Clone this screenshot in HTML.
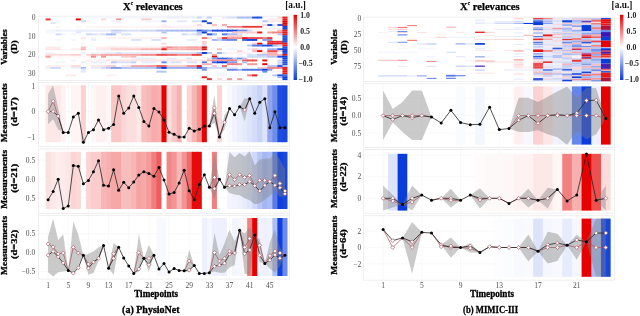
<!DOCTYPE html>
<html><head><meta charset="utf-8"><style>html,body{margin:0;padding:0;background:#fff;width:640px;height:316px;overflow:hidden}svg{display:block;will-change:transform}text{font-family:"Liberation Serif",serif}</style></head>
<body><svg width="640" height="316" viewBox="0 0 640 316" font-family="Liberation Serif, serif"><rect width="640" height="316" fill="#fff"/>
<rect x="38.4" y="16.2" width="251.20000000000002" height="64.2" fill="none" stroke="#ebebeb" stroke-width="0.8"/>
<text x="35.60" y="20.13" font-size="7.5" text-anchor="end" font-weight="normal" fill="#505050" >0</text>
<text x="35.60" y="38.78" font-size="7.5" text-anchor="end" font-weight="normal" fill="#505050" >10</text>
<text x="35.60" y="57.43" font-size="7.5" text-anchor="end" font-weight="normal" fill="#505050" >20</text>
<text x="35.60" y="76.08" font-size="7.5" text-anchor="end" font-weight="normal" fill="#505050" >30</text>
<rect x="85.90" y="16.60" width="5.94" height="1.915" fill="#f5f7fe"/>
<rect x="90.94" y="16.60" width="5.94" height="1.915" fill="#f5f7fe"/>
<rect x="95.98" y="16.60" width="5.94" height="1.915" fill="#f5f7fe"/>
<rect x="101.02" y="16.60" width="5.94" height="1.915" fill="#f5f7fe"/>
<rect x="106.06" y="16.60" width="5.94" height="1.915" fill="#f3f5fd"/>
<rect x="111.10" y="16.60" width="5.94" height="1.915" fill="#f3f5fd"/>
<rect x="116.14" y="16.60" width="5.94" height="1.915" fill="#f3f5fd"/>
<rect x="121.18" y="16.60" width="5.94" height="1.915" fill="#f3f5fd"/>
<rect x="126.22" y="16.60" width="5.94" height="1.915" fill="#f3f5fd"/>
<rect x="131.26" y="16.60" width="5.94" height="1.915" fill="#f3f5fd"/>
<rect x="136.30" y="16.60" width="5.94" height="1.915" fill="#f3f5fd"/>
<rect x="141.34" y="16.60" width="5.94" height="1.915" fill="#f3f5fd"/>
<rect x="146.38" y="16.60" width="5.94" height="1.915" fill="#f3f5fd"/>
<rect x="151.42" y="16.60" width="5.94" height="1.915" fill="#f3f5fd"/>
<rect x="156.46" y="16.60" width="5.94" height="1.915" fill="#f3f5fd"/>
<rect x="161.50" y="16.60" width="5.94" height="1.915" fill="#f3f5fd"/>
<rect x="166.54" y="16.60" width="5.94" height="1.915" fill="#ebeffc"/>
<rect x="171.58" y="16.60" width="5.94" height="1.915" fill="#ebeffc"/>
<rect x="176.62" y="16.60" width="5.94" height="1.915" fill="#ebeffc"/>
<rect x="181.66" y="16.60" width="5.94" height="1.915" fill="#ebeffc"/>
<rect x="186.70" y="16.60" width="5.94" height="1.915" fill="#ebeffc"/>
<rect x="191.74" y="16.60" width="5.94" height="1.915" fill="#ebeffc"/>
<rect x="196.78" y="16.60" width="5.94" height="1.915" fill="#ced8f8"/>
<rect x="201.82" y="16.60" width="5.94" height="1.915" fill="#f3f5fd"/>
<rect x="206.86" y="16.60" width="5.04" height="1.915" fill="#c2cef6"/>
<rect x="221.98" y="16.60" width="5.94" height="1.915" fill="#e6ecfc"/>
<rect x="227.02" y="16.60" width="5.94" height="1.915" fill="#dae2fa"/>
<rect x="232.06" y="16.60" width="5.94" height="1.915" fill="#dae2fa"/>
<rect x="237.10" y="16.60" width="5.94" height="1.915" fill="#a9bbf3"/>
<rect x="242.14" y="16.60" width="5.94" height="1.915" fill="#a9bbf3"/>
<rect x="247.18" y="16.60" width="5.94" height="1.915" fill="#a9bbf3"/>
<rect x="252.22" y="16.60" width="5.94" height="1.915" fill="#2250e0"/>
<rect x="257.26" y="16.60" width="5.04" height="1.915" fill="#2250e0"/>
<rect x="277.42" y="16.60" width="5.94" height="1.915" fill="#fbd9d9"/>
<rect x="282.46" y="16.60" width="5.04" height="1.915" fill="#e81919"/>
<rect x="45.58" y="18.46" width="5.04" height="1.915" fill="#eb3333"/>
<rect x="75.82" y="18.46" width="5.04" height="1.915" fill="#e60000"/>
<rect x="101.02" y="18.46" width="5.04" height="1.915" fill="#fbd9d9"/>
<rect x="116.14" y="18.46" width="5.04" height="1.915" fill="#f48c8c"/>
<rect x="141.34" y="18.46" width="5.94" height="1.915" fill="#facccc"/>
<rect x="146.38" y="18.46" width="5.04" height="1.915" fill="#facccc"/>
<rect x="267.34" y="18.46" width="5.94" height="1.915" fill="#fdebeb"/>
<rect x="272.38" y="18.46" width="5.94" height="1.915" fill="#fdebeb"/>
<rect x="277.42" y="18.46" width="5.94" height="1.915" fill="#fdebeb"/>
<rect x="282.46" y="18.46" width="5.04" height="1.915" fill="#e81919"/>
<rect x="55.66" y="20.33" width="5.04" height="1.915" fill="#f3f5fd"/>
<rect x="80.86" y="20.33" width="5.04" height="1.915" fill="#ced8f8"/>
<rect x="111.10" y="20.33" width="5.94" height="1.915" fill="#f0f3fd"/>
<rect x="116.14" y="20.33" width="5.04" height="1.915" fill="#f0f3fd"/>
<rect x="146.38" y="20.33" width="5.94" height="1.915" fill="#f3f5fd"/>
<rect x="151.42" y="20.33" width="5.94" height="1.915" fill="#f3f5fd"/>
<rect x="156.46" y="20.33" width="5.94" height="1.915" fill="#f3f5fd"/>
<rect x="161.50" y="20.33" width="5.04" height="1.915" fill="#9db1f1"/>
<rect x="176.62" y="20.33" width="5.94" height="1.915" fill="#e2e8fb"/>
<rect x="181.66" y="20.33" width="5.04" height="1.915" fill="#e2e8fb"/>
<rect x="191.74" y="20.33" width="5.94" height="1.915" fill="#dae2fa"/>
<rect x="196.78" y="20.33" width="5.94" height="1.915" fill="#dae2fa"/>
<rect x="201.82" y="20.33" width="5.04" height="1.915" fill="#0a3cdc"/>
<rect x="262.30" y="20.33" width="5.94" height="1.915" fill="#b6c4f4"/>
<rect x="267.34" y="20.33" width="5.94" height="1.915" fill="#fce6e6"/>
<rect x="272.38" y="20.33" width="5.94" height="1.915" fill="#fce6e6"/>
<rect x="277.42" y="20.33" width="5.94" height="1.915" fill="#fce6e6"/>
<rect x="282.46" y="20.33" width="5.04" height="1.915" fill="#e60000"/>
<rect x="50.62" y="22.20" width="5.04" height="1.915" fill="#dae2fa"/>
<rect x="206.86" y="22.20" width="5.04" height="1.915" fill="#2250e0"/>
<rect x="282.46" y="22.20" width="5.04" height="1.915" fill="#e60000"/>
<rect x="161.50" y="24.06" width="5.04" height="1.915" fill="#fef0f0"/>
<rect x="196.78" y="24.06" width="5.04" height="1.915" fill="#fbd9d9"/>
<rect x="211.90" y="24.06" width="5.04" height="1.915" fill="#f9bfbf"/>
<rect x="221.98" y="24.06" width="5.04" height="1.915" fill="#f6a6a6"/>
<rect x="262.30" y="24.06" width="5.94" height="1.915" fill="#fbd9d9"/>
<rect x="267.34" y="24.06" width="5.94" height="1.915" fill="#2250e0"/>
<rect x="272.38" y="24.06" width="5.94" height="1.915" fill="#e6ecfc"/>
<rect x="277.42" y="24.06" width="5.94" height="1.915" fill="#2f59e1"/>
<rect x="282.46" y="24.06" width="5.04" height="1.915" fill="#e81919"/>
<rect x="55.66" y="25.93" width="5.04" height="1.915" fill="#fef5f5"/>
<rect x="75.82" y="25.93" width="5.04" height="1.915" fill="#fef5f5"/>
<rect x="85.90" y="25.93" width="5.94" height="1.915" fill="#fef5f5"/>
<rect x="90.94" y="25.93" width="5.94" height="1.915" fill="#fef5f5"/>
<rect x="95.98" y="25.93" width="5.94" height="1.915" fill="#fef5f5"/>
<rect x="101.02" y="25.93" width="5.94" height="1.915" fill="#fef5f5"/>
<rect x="106.06" y="25.93" width="5.94" height="1.915" fill="#fef5f5"/>
<rect x="111.10" y="25.93" width="5.94" height="1.915" fill="#fef5f5"/>
<rect x="116.14" y="25.93" width="5.94" height="1.915" fill="#fef5f5"/>
<rect x="121.18" y="25.93" width="5.94" height="1.915" fill="#fef5f5"/>
<rect x="126.22" y="25.93" width="5.94" height="1.915" fill="#fef5f5"/>
<rect x="131.26" y="25.93" width="5.94" height="1.915" fill="#fef5f5"/>
<rect x="136.30" y="25.93" width="5.94" height="1.915" fill="#fef5f5"/>
<rect x="141.34" y="25.93" width="5.94" height="1.915" fill="#fef5f5"/>
<rect x="146.38" y="25.93" width="5.94" height="1.915" fill="#fef5f5"/>
<rect x="151.42" y="25.93" width="5.94" height="1.915" fill="#fef5f5"/>
<rect x="156.46" y="25.93" width="5.94" height="1.915" fill="#fef5f5"/>
<rect x="161.50" y="25.93" width="5.94" height="1.915" fill="#fdebeb"/>
<rect x="166.54" y="25.93" width="5.94" height="1.915" fill="#fdebeb"/>
<rect x="171.58" y="25.93" width="5.94" height="1.915" fill="#fef2f2"/>
<rect x="176.62" y="25.93" width="5.94" height="1.915" fill="#fef2f2"/>
<rect x="181.66" y="25.93" width="5.94" height="1.915" fill="#fef2f2"/>
<rect x="186.70" y="25.93" width="5.94" height="1.915" fill="#fef2f2"/>
<rect x="191.74" y="25.93" width="5.94" height="1.915" fill="#fef2f2"/>
<rect x="196.78" y="25.93" width="5.94" height="1.915" fill="#fef2f2"/>
<rect x="201.82" y="25.93" width="5.94" height="1.915" fill="#fef2f2"/>
<rect x="206.86" y="25.93" width="5.94" height="1.915" fill="#fef2f2"/>
<rect x="211.90" y="25.93" width="5.94" height="1.915" fill="#fef2f2"/>
<rect x="216.94" y="25.93" width="5.94" height="1.915" fill="#fef2f2"/>
<rect x="221.98" y="25.93" width="5.94" height="1.915" fill="#fef2f2"/>
<rect x="227.02" y="25.93" width="5.94" height="1.915" fill="#f28080"/>
<rect x="232.06" y="25.93" width="5.94" height="1.915" fill="#f28080"/>
<rect x="237.10" y="25.93" width="5.94" height="1.915" fill="#f28080"/>
<rect x="242.14" y="25.93" width="5.94" height="1.915" fill="#eb3333"/>
<rect x="247.18" y="25.93" width="5.94" height="1.915" fill="#eb3333"/>
<rect x="252.22" y="25.93" width="5.94" height="1.915" fill="#eb3333"/>
<rect x="257.26" y="25.93" width="5.04" height="1.915" fill="#eb3333"/>
<rect x="282.46" y="25.93" width="5.04" height="1.915" fill="#0a3cdc"/>
<rect x="227.02" y="27.79" width="5.94" height="1.915" fill="#fef2f2"/>
<rect x="232.06" y="27.79" width="5.94" height="1.915" fill="#fef2f2"/>
<rect x="237.10" y="27.79" width="5.94" height="1.915" fill="#fef2f2"/>
<rect x="242.14" y="27.79" width="5.94" height="1.915" fill="#fef2f2"/>
<rect x="247.18" y="27.79" width="5.94" height="1.915" fill="#fef2f2"/>
<rect x="252.22" y="27.79" width="5.94" height="1.915" fill="#fef2f2"/>
<rect x="257.26" y="27.79" width="5.94" height="1.915" fill="#fef2f2"/>
<rect x="262.30" y="27.79" width="5.94" height="1.915" fill="#fef2f2"/>
<rect x="267.34" y="27.79" width="5.94" height="1.915" fill="#fef2f2"/>
<rect x="272.38" y="27.79" width="5.94" height="1.915" fill="#fef2f2"/>
<rect x="277.42" y="27.79" width="5.94" height="1.915" fill="#fef2f2"/>
<rect x="282.46" y="27.79" width="5.04" height="1.915" fill="#0a3cdc"/>
<rect x="45.58" y="29.66" width="5.94" height="1.915" fill="#f3f5fd"/>
<rect x="50.62" y="29.66" width="5.94" height="1.915" fill="#f3f5fd"/>
<rect x="55.66" y="29.66" width="5.94" height="1.915" fill="#e6ecfc"/>
<rect x="60.70" y="29.66" width="5.94" height="1.915" fill="#f0f3fd"/>
<rect x="65.74" y="29.66" width="5.94" height="1.915" fill="#f0f3fd"/>
<rect x="70.78" y="29.66" width="5.94" height="1.915" fill="#f0f3fd"/>
<rect x="75.82" y="29.66" width="5.94" height="1.915" fill="#e6ecfc"/>
<rect x="80.86" y="29.66" width="5.94" height="1.915" fill="#e6ecfc"/>
<rect x="85.90" y="29.66" width="5.94" height="1.915" fill="#e6ecfc"/>
<rect x="90.94" y="29.66" width="5.94" height="1.915" fill="#e6ecfc"/>
<rect x="95.98" y="29.66" width="5.94" height="1.915" fill="#e6ecfc"/>
<rect x="101.02" y="29.66" width="5.94" height="1.915" fill="#e6ecfc"/>
<rect x="106.06" y="29.66" width="5.94" height="1.915" fill="#e6ecfc"/>
<rect x="111.10" y="29.66" width="5.94" height="1.915" fill="#c2cef6"/>
<rect x="116.14" y="29.66" width="5.94" height="1.915" fill="#c2cef6"/>
<rect x="121.18" y="29.66" width="5.94" height="1.915" fill="#ced8f8"/>
<rect x="126.22" y="29.66" width="5.94" height="1.915" fill="#dae2fa"/>
<rect x="131.26" y="29.66" width="5.94" height="1.915" fill="#dae2fa"/>
<rect x="136.30" y="29.66" width="5.94" height="1.915" fill="#dae2fa"/>
<rect x="141.34" y="29.66" width="5.94" height="1.915" fill="#ced8f8"/>
<rect x="146.38" y="29.66" width="5.94" height="1.915" fill="#ced8f8"/>
<rect x="151.42" y="29.66" width="5.94" height="1.915" fill="#ced8f8"/>
<rect x="156.46" y="29.66" width="5.94" height="1.915" fill="#b6c4f4"/>
<rect x="161.50" y="29.66" width="5.94" height="1.915" fill="#b6c4f4"/>
<rect x="166.54" y="29.66" width="5.94" height="1.915" fill="#a9bbf3"/>
<rect x="171.58" y="29.66" width="5.94" height="1.915" fill="#a9bbf3"/>
<rect x="176.62" y="29.66" width="5.94" height="1.915" fill="#a9bbf3"/>
<rect x="181.66" y="29.66" width="5.94" height="1.915" fill="#a9bbf3"/>
<rect x="186.70" y="29.66" width="5.94" height="1.915" fill="#a9bbf3"/>
<rect x="191.74" y="29.66" width="5.94" height="1.915" fill="#a9bbf3"/>
<rect x="196.78" y="29.66" width="5.94" height="1.915" fill="#2250e0"/>
<rect x="201.82" y="29.66" width="5.94" height="1.915" fill="#6c8aea"/>
<rect x="206.86" y="29.66" width="5.94" height="1.915" fill="#849eee"/>
<rect x="211.90" y="29.66" width="5.94" height="1.915" fill="#2250e0"/>
<rect x="216.94" y="29.66" width="5.94" height="1.915" fill="#2250e0"/>
<rect x="221.98" y="29.66" width="5.94" height="1.915" fill="#2250e0"/>
<rect x="227.02" y="29.66" width="5.94" height="1.915" fill="#1646de"/>
<rect x="232.06" y="29.66" width="5.94" height="1.915" fill="#1646de"/>
<rect x="237.10" y="29.66" width="5.94" height="1.915" fill="#6c8aea"/>
<rect x="242.14" y="29.66" width="5.94" height="1.915" fill="#6c8aea"/>
<rect x="247.18" y="29.66" width="5.04" height="1.915" fill="#ced8f8"/>
<rect x="277.42" y="29.66" width="5.94" height="1.915" fill="#f8b2b2"/>
<rect x="282.46" y="29.66" width="5.04" height="1.915" fill="#e81919"/>
<rect x="45.58" y="31.52" width="5.94" height="1.915" fill="#f5f7fe"/>
<rect x="50.62" y="31.52" width="5.04" height="1.915" fill="#f5f7fe"/>
<rect x="75.82" y="31.52" width="5.04" height="1.915" fill="#e2e8fb"/>
<rect x="111.10" y="31.52" width="5.94" height="1.915" fill="#dae2fa"/>
<rect x="116.14" y="31.52" width="5.04" height="1.915" fill="#dae2fa"/>
<rect x="161.50" y="31.52" width="5.04" height="1.915" fill="#b6c4f4"/>
<rect x="196.78" y="31.52" width="5.94" height="1.915" fill="#b6c4f4"/>
<rect x="201.82" y="31.52" width="5.04" height="1.915" fill="#0a3cdc"/>
<rect x="232.06" y="31.52" width="5.94" height="1.915" fill="#facccc"/>
<rect x="237.10" y="31.52" width="5.94" height="1.915" fill="#facccc"/>
<rect x="242.14" y="31.52" width="5.94" height="1.915" fill="#facccc"/>
<rect x="247.18" y="31.52" width="5.94" height="1.915" fill="#facccc"/>
<rect x="252.22" y="31.52" width="5.94" height="1.915" fill="#facccc"/>
<rect x="257.26" y="31.52" width="5.04" height="1.915" fill="#e81919"/>
<rect x="267.34" y="31.52" width="5.94" height="1.915" fill="#f59999"/>
<rect x="272.38" y="31.52" width="5.94" height="1.915" fill="#f28080"/>
<rect x="277.42" y="31.52" width="5.94" height="1.915" fill="#f28080"/>
<rect x="282.46" y="31.52" width="5.04" height="1.915" fill="#e81919"/>
<rect x="55.66" y="33.39" width="5.94" height="1.915" fill="#ced8f8"/>
<rect x="60.70" y="33.39" width="5.04" height="1.915" fill="#f3f5fd"/>
<rect x="70.78" y="33.39" width="5.04" height="1.915" fill="#f3f5fd"/>
<rect x="85.90" y="33.39" width="5.94" height="1.915" fill="#ced8f8"/>
<rect x="90.94" y="33.39" width="5.94" height="1.915" fill="#dae2fa"/>
<rect x="95.98" y="33.39" width="5.94" height="1.915" fill="#e6ecfc"/>
<rect x="101.02" y="33.39" width="5.94" height="1.915" fill="#dae2fa"/>
<rect x="106.06" y="33.39" width="5.94" height="1.915" fill="#a9bbf3"/>
<rect x="111.10" y="33.39" width="5.04" height="1.915" fill="#a9bbf3"/>
<rect x="121.18" y="33.39" width="5.94" height="1.915" fill="#dae2fa"/>
<rect x="126.22" y="33.39" width="5.04" height="1.915" fill="#dae2fa"/>
<rect x="181.66" y="33.39" width="5.94" height="1.915" fill="#ced8f8"/>
<rect x="186.70" y="33.39" width="5.94" height="1.915" fill="#e6ecfc"/>
<rect x="191.74" y="33.39" width="5.94" height="1.915" fill="#dae2fa"/>
<rect x="196.78" y="33.39" width="5.04" height="1.915" fill="#b6c4f4"/>
<rect x="206.86" y="33.39" width="5.94" height="1.915" fill="#2250e0"/>
<rect x="211.90" y="33.39" width="5.04" height="1.915" fill="#9db1f1"/>
<rect x="221.98" y="33.39" width="5.94" height="1.915" fill="#5477e6"/>
<rect x="227.02" y="33.39" width="5.94" height="1.915" fill="#a9bbf3"/>
<rect x="232.06" y="33.39" width="5.94" height="1.915" fill="#a9bbf3"/>
<rect x="237.10" y="33.39" width="5.04" height="1.915" fill="#dae2fa"/>
<rect x="277.42" y="33.39" width="5.94" height="1.915" fill="#b6c4f4"/>
<rect x="282.46" y="33.39" width="5.04" height="1.915" fill="#e81919"/>
<rect x="227.02" y="35.25" width="5.94" height="1.915" fill="#facccc"/>
<rect x="232.06" y="35.25" width="5.94" height="1.915" fill="#facccc"/>
<rect x="237.10" y="35.25" width="5.04" height="1.915" fill="#facccc"/>
<rect x="282.46" y="35.25" width="5.04" height="1.915" fill="#2250e0"/>
<rect x="80.86" y="37.12" width="5.04" height="1.915" fill="#fce6e6"/>
<rect x="90.94" y="37.12" width="5.04" height="1.915" fill="#f3f5fd"/>
<rect x="106.06" y="37.12" width="5.94" height="1.915" fill="#fef2f2"/>
<rect x="111.10" y="37.12" width="5.94" height="1.915" fill="#fef2f2"/>
<rect x="116.14" y="37.12" width="5.94" height="1.915" fill="#fef2f2"/>
<rect x="121.18" y="37.12" width="5.94" height="1.915" fill="#fef2f2"/>
<rect x="126.22" y="37.12" width="5.94" height="1.915" fill="#fef2f2"/>
<rect x="131.26" y="37.12" width="5.94" height="1.915" fill="#fef2f2"/>
<rect x="136.30" y="37.12" width="5.94" height="1.915" fill="#fef2f2"/>
<rect x="141.34" y="37.12" width="5.94" height="1.915" fill="#fef2f2"/>
<rect x="146.38" y="37.12" width="5.94" height="1.915" fill="#fef2f2"/>
<rect x="151.42" y="37.12" width="5.94" height="1.915" fill="#fef2f2"/>
<rect x="156.46" y="37.12" width="5.94" height="1.915" fill="#fef2f2"/>
<rect x="161.50" y="37.12" width="5.04" height="1.915" fill="#f8b2b2"/>
<rect x="201.82" y="37.12" width="5.94" height="1.915" fill="#f17373"/>
<rect x="206.86" y="37.12" width="5.04" height="1.915" fill="#fbd9d9"/>
<rect x="216.94" y="37.12" width="5.94" height="1.915" fill="#facccc"/>
<rect x="221.98" y="37.12" width="5.94" height="1.915" fill="#eb3333"/>
<rect x="227.02" y="37.12" width="5.94" height="1.915" fill="#f59999"/>
<rect x="232.06" y="37.12" width="5.94" height="1.915" fill="#f59999"/>
<rect x="237.10" y="37.12" width="5.94" height="1.915" fill="#f59999"/>
<rect x="242.14" y="37.12" width="5.94" height="1.915" fill="#e81919"/>
<rect x="247.18" y="37.12" width="5.94" height="1.915" fill="#ee4d4d"/>
<rect x="252.22" y="37.12" width="5.94" height="1.915" fill="#ee4d4d"/>
<rect x="257.26" y="37.12" width="5.94" height="1.915" fill="#ee4d4d"/>
<rect x="262.30" y="37.12" width="5.94" height="1.915" fill="#f28080"/>
<rect x="267.34" y="37.12" width="5.04" height="1.915" fill="#eb3333"/>
<rect x="282.46" y="37.12" width="5.04" height="1.915" fill="#2250e0"/>
<rect x="55.66" y="38.98" width="5.04" height="1.915" fill="#f5f7fe"/>
<rect x="70.78" y="38.98" width="5.04" height="1.915" fill="#f5f7fe"/>
<rect x="90.94" y="38.98" width="5.04" height="1.915" fill="#e6ecfc"/>
<rect x="131.26" y="38.98" width="5.94" height="1.915" fill="#dae2fa"/>
<rect x="136.30" y="38.98" width="5.04" height="1.915" fill="#dae2fa"/>
<rect x="151.42" y="38.98" width="5.94" height="1.915" fill="#dae2fa"/>
<rect x="156.46" y="38.98" width="5.04" height="1.915" fill="#dae2fa"/>
<rect x="186.70" y="38.98" width="5.94" height="1.915" fill="#e6ecfc"/>
<rect x="191.74" y="38.98" width="5.04" height="1.915" fill="#e6ecfc"/>
<rect x="211.90" y="38.98" width="5.94" height="1.915" fill="#9db1f1"/>
<rect x="216.94" y="38.98" width="5.94" height="1.915" fill="#c2cef6"/>
<rect x="221.98" y="38.98" width="5.94" height="1.915" fill="#849eee"/>
<rect x="227.02" y="38.98" width="5.94" height="1.915" fill="#6c8aea"/>
<rect x="232.06" y="38.98" width="5.04" height="1.915" fill="#6c8aea"/>
<rect x="242.14" y="38.98" width="5.94" height="1.915" fill="#3b63e3"/>
<rect x="247.18" y="38.98" width="5.94" height="1.915" fill="#1646de"/>
<rect x="252.22" y="38.98" width="5.04" height="1.915" fill="#1646de"/>
<rect x="262.30" y="38.98" width="5.94" height="1.915" fill="#849eee"/>
<rect x="267.34" y="38.98" width="5.04" height="1.915" fill="#849eee"/>
<rect x="282.46" y="38.98" width="5.04" height="1.915" fill="#2250e0"/>
<rect x="201.82" y="40.84" width="5.04" height="1.915" fill="#facccc"/>
<rect x="267.34" y="40.84" width="5.94" height="1.915" fill="#eb3333"/>
<rect x="272.38" y="40.84" width="5.94" height="1.915" fill="#eb3333"/>
<rect x="277.42" y="40.84" width="5.94" height="1.915" fill="#eb3333"/>
<rect x="282.46" y="40.84" width="5.04" height="1.915" fill="#2250e0"/>
<rect x="80.86" y="42.71" width="5.04" height="1.915" fill="#fef5f5"/>
<rect x="161.50" y="42.71" width="5.04" height="1.915" fill="#fbd9d9"/>
<rect x="201.82" y="42.71" width="5.04" height="1.915" fill="#facccc"/>
<rect x="252.22" y="42.71" width="5.94" height="1.915" fill="#facccc"/>
<rect x="257.26" y="42.71" width="5.04" height="1.915" fill="#e60000"/>
<rect x="267.34" y="42.71" width="5.94" height="1.915" fill="#ea2626"/>
<rect x="272.38" y="42.71" width="5.94" height="1.915" fill="#ea2626"/>
<rect x="277.42" y="42.71" width="5.94" height="1.915" fill="#ea2626"/>
<rect x="282.46" y="42.71" width="5.04" height="1.915" fill="#e81919"/>
<rect x="201.82" y="44.58" width="5.04" height="1.915" fill="#dae2fa"/>
<rect x="247.18" y="44.58" width="5.94" height="1.915" fill="#b6c4f4"/>
<rect x="252.22" y="44.58" width="5.94" height="1.915" fill="#5477e6"/>
<rect x="257.26" y="44.58" width="5.94" height="1.915" fill="#5477e6"/>
<rect x="262.30" y="44.58" width="5.94" height="1.915" fill="#2250e0"/>
<rect x="267.34" y="44.58" width="5.94" height="1.915" fill="#2250e0"/>
<rect x="272.38" y="44.58" width="5.94" height="1.915" fill="#a9bbf3"/>
<rect x="277.42" y="44.58" width="5.94" height="1.915" fill="#ced8f8"/>
<rect x="282.46" y="44.58" width="5.04" height="1.915" fill="#e81919"/>
<rect x="45.58" y="46.44" width="5.94" height="1.915" fill="#fdebeb"/>
<rect x="50.62" y="46.44" width="5.94" height="1.915" fill="#fdebeb"/>
<rect x="55.66" y="46.44" width="5.04" height="1.915" fill="#fdebeb"/>
<rect x="80.86" y="46.44" width="5.04" height="1.915" fill="#f9bfbf"/>
<rect x="95.98" y="46.44" width="5.94" height="1.915" fill="#fef0f0"/>
<rect x="101.02" y="46.44" width="5.94" height="1.915" fill="#fef0f0"/>
<rect x="106.06" y="46.44" width="5.94" height="1.915" fill="#fdebeb"/>
<rect x="111.10" y="46.44" width="5.94" height="1.915" fill="#fce6e6"/>
<rect x="116.14" y="46.44" width="5.94" height="1.915" fill="#fdebeb"/>
<rect x="121.18" y="46.44" width="5.94" height="1.915" fill="#fdebeb"/>
<rect x="126.22" y="46.44" width="5.94" height="1.915" fill="#fdebeb"/>
<rect x="131.26" y="46.44" width="5.94" height="1.915" fill="#fdebeb"/>
<rect x="136.30" y="46.44" width="5.94" height="1.915" fill="#fdebeb"/>
<rect x="141.34" y="46.44" width="5.94" height="1.915" fill="#fdebeb"/>
<rect x="146.38" y="46.44" width="5.94" height="1.915" fill="#fdebeb"/>
<rect x="151.42" y="46.44" width="5.94" height="1.915" fill="#fdebeb"/>
<rect x="156.46" y="46.44" width="5.94" height="1.915" fill="#fdebeb"/>
<rect x="161.50" y="46.44" width="5.94" height="1.915" fill="#f8b2b2"/>
<rect x="166.54" y="46.44" width="5.94" height="1.915" fill="#f48c8c"/>
<rect x="171.58" y="46.44" width="5.94" height="1.915" fill="#f6a6a6"/>
<rect x="176.62" y="46.44" width="5.94" height="1.915" fill="#f8b2b2"/>
<rect x="181.66" y="46.44" width="5.94" height="1.915" fill="#f8b2b2"/>
<rect x="186.70" y="46.44" width="5.94" height="1.915" fill="#f6a6a6"/>
<rect x="191.74" y="46.44" width="5.94" height="1.915" fill="#f6a6a6"/>
<rect x="196.78" y="46.44" width="5.94" height="1.915" fill="#f6a6a6"/>
<rect x="201.82" y="46.44" width="5.04" height="1.915" fill="#e70d0d"/>
<rect x="282.46" y="46.44" width="5.04" height="1.915" fill="#2250e0"/>
<rect x="45.58" y="48.30" width="5.94" height="1.915" fill="#fce6e6"/>
<rect x="50.62" y="48.30" width="5.94" height="1.915" fill="#fce6e6"/>
<rect x="55.66" y="48.30" width="5.04" height="1.915" fill="#fce6e6"/>
<rect x="70.78" y="48.30" width="5.94" height="1.915" fill="#fdebeb"/>
<rect x="75.82" y="48.30" width="5.94" height="1.915" fill="#fdebeb"/>
<rect x="80.86" y="48.30" width="5.04" height="1.915" fill="#f8b2b2"/>
<rect x="95.98" y="48.30" width="5.94" height="1.915" fill="#fce6e6"/>
<rect x="101.02" y="48.30" width="5.94" height="1.915" fill="#fce6e6"/>
<rect x="106.06" y="48.30" width="5.94" height="1.915" fill="#fce6e6"/>
<rect x="111.10" y="48.30" width="5.94" height="1.915" fill="#facccc"/>
<rect x="116.14" y="48.30" width="5.94" height="1.915" fill="#facccc"/>
<rect x="121.18" y="48.30" width="5.94" height="1.915" fill="#facccc"/>
<rect x="126.22" y="48.30" width="5.94" height="1.915" fill="#facccc"/>
<rect x="131.26" y="48.30" width="5.94" height="1.915" fill="#facccc"/>
<rect x="136.30" y="48.30" width="5.94" height="1.915" fill="#facccc"/>
<rect x="141.34" y="48.30" width="5.94" height="1.915" fill="#f8b2b2"/>
<rect x="146.38" y="48.30" width="5.94" height="1.915" fill="#f8b2b2"/>
<rect x="151.42" y="48.30" width="5.94" height="1.915" fill="#f8b2b2"/>
<rect x="156.46" y="48.30" width="5.94" height="1.915" fill="#f8b2b2"/>
<rect x="161.50" y="48.30" width="5.94" height="1.915" fill="#e81919"/>
<rect x="166.54" y="48.30" width="5.94" height="1.915" fill="#f8b2b2"/>
<rect x="171.58" y="48.30" width="5.94" height="1.915" fill="#f8b2b2"/>
<rect x="176.62" y="48.30" width="5.94" height="1.915" fill="#f8b2b2"/>
<rect x="181.66" y="48.30" width="5.94" height="1.915" fill="#f8b2b2"/>
<rect x="186.70" y="48.30" width="5.94" height="1.915" fill="#f6a6a6"/>
<rect x="191.74" y="48.30" width="5.94" height="1.915" fill="#f6a6a6"/>
<rect x="196.78" y="48.30" width="5.94" height="1.915" fill="#f6a6a6"/>
<rect x="201.82" y="48.30" width="5.04" height="1.915" fill="#e81919"/>
<rect x="216.94" y="48.30" width="5.04" height="1.915" fill="#f9bfbf"/>
<rect x="227.02" y="48.30" width="5.94" height="1.915" fill="#f3f5fd"/>
<rect x="232.06" y="48.30" width="5.04" height="1.915" fill="#f3f5fd"/>
<rect x="247.18" y="48.30" width="5.94" height="1.915" fill="#e6ecfc"/>
<rect x="252.22" y="48.30" width="5.94" height="1.915" fill="#facccc"/>
<rect x="257.26" y="48.30" width="5.04" height="1.915" fill="#e6ecfc"/>
<rect x="267.34" y="48.30" width="5.94" height="1.915" fill="#9db1f1"/>
<rect x="272.38" y="48.30" width="5.94" height="1.915" fill="#9db1f1"/>
<rect x="277.42" y="48.30" width="5.94" height="1.915" fill="#2250e0"/>
<rect x="282.46" y="48.30" width="5.04" height="1.915" fill="#0a3cdc"/>
<rect x="237.10" y="50.17" width="5.04" height="1.915" fill="#facccc"/>
<rect x="252.22" y="50.17" width="5.94" height="1.915" fill="#f8b2b2"/>
<rect x="257.26" y="50.17" width="5.04" height="1.915" fill="#e60000"/>
<rect x="267.34" y="50.17" width="5.94" height="1.915" fill="#ee4d4d"/>
<rect x="272.38" y="50.17" width="5.94" height="1.915" fill="#ee4d4d"/>
<rect x="277.42" y="50.17" width="5.94" height="1.915" fill="#facccc"/>
<rect x="282.46" y="50.17" width="5.04" height="1.915" fill="#0a3cdc"/>
<rect x="45.58" y="52.04" width="5.94" height="1.915" fill="#f3f5fd"/>
<rect x="50.62" y="52.04" width="5.04" height="1.915" fill="#f3f5fd"/>
<rect x="80.86" y="52.04" width="5.04" height="1.915" fill="#ebeffc"/>
<rect x="90.94" y="52.04" width="5.94" height="1.915" fill="#f3f5fd"/>
<rect x="95.98" y="52.04" width="5.94" height="1.915" fill="#f3f5fd"/>
<rect x="101.02" y="52.04" width="5.94" height="1.915" fill="#f3f5fd"/>
<rect x="106.06" y="52.04" width="5.94" height="1.915" fill="#ebeffc"/>
<rect x="111.10" y="52.04" width="5.94" height="1.915" fill="#ebeffc"/>
<rect x="116.14" y="52.04" width="5.94" height="1.915" fill="#dae2fa"/>
<rect x="121.18" y="52.04" width="5.94" height="1.915" fill="#ebeffc"/>
<rect x="126.22" y="52.04" width="5.94" height="1.915" fill="#ebeffc"/>
<rect x="131.26" y="52.04" width="5.94" height="1.915" fill="#ebeffc"/>
<rect x="136.30" y="52.04" width="5.94" height="1.915" fill="#ebeffc"/>
<rect x="141.34" y="52.04" width="5.94" height="1.915" fill="#ebeffc"/>
<rect x="146.38" y="52.04" width="5.94" height="1.915" fill="#ebeffc"/>
<rect x="151.42" y="52.04" width="5.94" height="1.915" fill="#ebeffc"/>
<rect x="156.46" y="52.04" width="5.94" height="1.915" fill="#ebeffc"/>
<rect x="161.50" y="52.04" width="5.94" height="1.915" fill="#ced8f8"/>
<rect x="166.54" y="52.04" width="5.94" height="1.915" fill="#dae2fa"/>
<rect x="171.58" y="52.04" width="5.94" height="1.915" fill="#dae2fa"/>
<rect x="176.62" y="52.04" width="5.94" height="1.915" fill="#dae2fa"/>
<rect x="181.66" y="52.04" width="5.94" height="1.915" fill="#dae2fa"/>
<rect x="186.70" y="52.04" width="5.94" height="1.915" fill="#dae2fa"/>
<rect x="191.74" y="52.04" width="5.94" height="1.915" fill="#dae2fa"/>
<rect x="196.78" y="52.04" width="5.94" height="1.915" fill="#b6c4f4"/>
<rect x="201.82" y="52.04" width="5.94" height="1.915" fill="#0a3cdc"/>
<rect x="206.86" y="52.04" width="5.04" height="1.915" fill="#b6c4f4"/>
<rect x="216.94" y="52.04" width="5.94" height="1.915" fill="#9db1f1"/>
<rect x="221.98" y="52.04" width="5.94" height="1.915" fill="#e6ecfc"/>
<rect x="227.02" y="52.04" width="5.94" height="1.915" fill="#fef2f2"/>
<rect x="232.06" y="52.04" width="5.94" height="1.915" fill="#fef2f2"/>
<rect x="237.10" y="52.04" width="5.94" height="1.915" fill="#fef2f2"/>
<rect x="242.14" y="52.04" width="5.94" height="1.915" fill="#fef2f2"/>
<rect x="247.18" y="52.04" width="5.04" height="1.915" fill="#fef2f2"/>
<rect x="262.30" y="52.04" width="5.94" height="1.915" fill="#fbd9d9"/>
<rect x="267.34" y="52.04" width="5.94" height="1.915" fill="#f8b2b2"/>
<rect x="272.38" y="52.04" width="5.04" height="1.915" fill="#f8b2b2"/>
<rect x="282.46" y="52.04" width="5.04" height="1.915" fill="#2250e0"/>
<rect x="45.58" y="53.90" width="5.94" height="1.915" fill="#fbd9d9"/>
<rect x="50.62" y="53.90" width="5.94" height="1.915" fill="#fbd9d9"/>
<rect x="55.66" y="53.90" width="5.94" height="1.915" fill="#fbd9d9"/>
<rect x="60.70" y="53.90" width="5.94" height="1.915" fill="#fbd9d9"/>
<rect x="65.74" y="53.90" width="5.94" height="1.915" fill="#fbd9d9"/>
<rect x="70.78" y="53.90" width="5.94" height="1.915" fill="#facccc"/>
<rect x="75.82" y="53.90" width="5.04" height="1.915" fill="#facccc"/>
<rect x="85.90" y="53.90" width="5.94" height="1.915" fill="#facccc"/>
<rect x="90.94" y="53.90" width="5.94" height="1.915" fill="#f8b2b2"/>
<rect x="95.98" y="53.90" width="5.94" height="1.915" fill="#f9bfbf"/>
<rect x="101.02" y="53.90" width="5.94" height="1.915" fill="#f6a6a6"/>
<rect x="106.06" y="53.90" width="5.94" height="1.915" fill="#f6a6a6"/>
<rect x="111.10" y="53.90" width="5.94" height="1.915" fill="#f6a6a6"/>
<rect x="116.14" y="53.90" width="5.94" height="1.915" fill="#f6a6a6"/>
<rect x="121.18" y="53.90" width="5.94" height="1.915" fill="#f6a6a6"/>
<rect x="126.22" y="53.90" width="5.94" height="1.915" fill="#f6a6a6"/>
<rect x="131.26" y="53.90" width="5.94" height="1.915" fill="#f6a6a6"/>
<rect x="136.30" y="53.90" width="5.94" height="1.915" fill="#f6a6a6"/>
<rect x="141.34" y="53.90" width="5.94" height="1.915" fill="#f48c8c"/>
<rect x="146.38" y="53.90" width="5.94" height="1.915" fill="#f48c8c"/>
<rect x="151.42" y="53.90" width="5.94" height="1.915" fill="#f48c8c"/>
<rect x="156.46" y="53.90" width="5.94" height="1.915" fill="#ee4d4d"/>
<rect x="161.50" y="53.90" width="5.94" height="1.915" fill="#ee4d4d"/>
<rect x="166.54" y="53.90" width="5.94" height="1.915" fill="#f06666"/>
<rect x="171.58" y="53.90" width="5.94" height="1.915" fill="#f06666"/>
<rect x="176.62" y="53.90" width="5.94" height="1.915" fill="#f48c8c"/>
<rect x="181.66" y="53.90" width="5.94" height="1.915" fill="#f48c8c"/>
<rect x="186.70" y="53.90" width="5.94" height="1.915" fill="#f48c8c"/>
<rect x="191.74" y="53.90" width="5.94" height="1.915" fill="#ec4040"/>
<rect x="196.78" y="53.90" width="5.04" height="1.915" fill="#ec4040"/>
<rect x="211.90" y="53.90" width="5.04" height="1.915" fill="#f6a6a6"/>
<rect x="237.10" y="53.90" width="5.04" height="1.915" fill="#f3f5fd"/>
<rect x="247.18" y="53.90" width="5.94" height="1.915" fill="#dae2fa"/>
<rect x="252.22" y="53.90" width="5.94" height="1.915" fill="#dae2fa"/>
<rect x="257.26" y="53.90" width="5.94" height="1.915" fill="#b6c4f4"/>
<rect x="262.30" y="53.90" width="5.94" height="1.915" fill="#b6c4f4"/>
<rect x="267.34" y="53.90" width="5.94" height="1.915" fill="#f8b2b2"/>
<rect x="272.38" y="53.90" width="5.94" height="1.915" fill="#f8b2b2"/>
<rect x="277.42" y="53.90" width="5.94" height="1.915" fill="#f8b2b2"/>
<rect x="282.46" y="53.90" width="5.04" height="1.915" fill="#e81919"/>
<rect x="45.58" y="55.77" width="5.94" height="1.915" fill="#f59999"/>
<rect x="50.62" y="55.77" width="5.94" height="1.915" fill="#fef7f7"/>
<rect x="55.66" y="55.77" width="5.94" height="1.915" fill="#fef7f7"/>
<rect x="60.70" y="55.77" width="5.94" height="1.915" fill="#fef7f7"/>
<rect x="65.74" y="55.77" width="5.94" height="1.915" fill="#fef7f7"/>
<rect x="70.78" y="55.77" width="5.94" height="1.915" fill="#fef7f7"/>
<rect x="75.82" y="55.77" width="5.94" height="1.915" fill="#fef7f7"/>
<rect x="80.86" y="55.77" width="5.94" height="1.915" fill="#fef7f7"/>
<rect x="85.90" y="55.77" width="5.94" height="1.915" fill="#fef7f7"/>
<rect x="90.94" y="55.77" width="5.04" height="1.915" fill="#f48c8c"/>
<rect x="101.02" y="55.77" width="5.04" height="1.915" fill="#f59999"/>
<rect x="121.18" y="55.77" width="5.94" height="1.915" fill="#facccc"/>
<rect x="126.22" y="55.77" width="5.94" height="1.915" fill="#facccc"/>
<rect x="131.26" y="55.77" width="5.04" height="1.915" fill="#f8b2b2"/>
<rect x="211.90" y="55.77" width="5.04" height="1.915" fill="#e70d0d"/>
<rect x="247.18" y="55.77" width="5.94" height="1.915" fill="#ced8f8"/>
<rect x="252.22" y="55.77" width="5.94" height="1.915" fill="#ced8f8"/>
<rect x="257.26" y="55.77" width="5.94" height="1.915" fill="#ced8f8"/>
<rect x="262.30" y="55.77" width="5.94" height="1.915" fill="#ced8f8"/>
<rect x="267.34" y="55.77" width="5.94" height="1.915" fill="#b6c4f4"/>
<rect x="272.38" y="55.77" width="5.94" height="1.915" fill="#b6c4f4"/>
<rect x="277.42" y="55.77" width="5.94" height="1.915" fill="#2250e0"/>
<rect x="282.46" y="55.77" width="5.04" height="1.915" fill="#0a3cdc"/>
<rect x="131.26" y="57.63" width="5.94" height="1.915" fill="#ebeffc"/>
<rect x="136.30" y="57.63" width="5.94" height="1.915" fill="#ebeffc"/>
<rect x="141.34" y="57.63" width="5.94" height="1.915" fill="#ebeffc"/>
<rect x="146.38" y="57.63" width="5.94" height="1.915" fill="#ebeffc"/>
<rect x="151.42" y="57.63" width="5.04" height="1.915" fill="#ebeffc"/>
<rect x="166.54" y="57.63" width="5.94" height="1.915" fill="#e6ecfc"/>
<rect x="171.58" y="57.63" width="5.04" height="1.915" fill="#e6ecfc"/>
<rect x="186.70" y="57.63" width="5.04" height="1.915" fill="#dae2fa"/>
<rect x="206.86" y="57.63" width="5.94" height="1.915" fill="#dae2fa"/>
<rect x="211.90" y="57.63" width="5.94" height="1.915" fill="#849eee"/>
<rect x="216.94" y="57.63" width="5.94" height="1.915" fill="#3b63e3"/>
<rect x="221.98" y="57.63" width="5.94" height="1.915" fill="#3b63e3"/>
<rect x="227.02" y="57.63" width="5.94" height="1.915" fill="#6c8aea"/>
<rect x="232.06" y="57.63" width="5.94" height="1.915" fill="#b6c4f4"/>
<rect x="237.10" y="57.63" width="5.94" height="1.915" fill="#6c8aea"/>
<rect x="242.14" y="57.63" width="5.04" height="1.915" fill="#b6c4f4"/>
<rect x="282.46" y="57.63" width="5.04" height="1.915" fill="#0a3cdc"/>
<rect x="70.78" y="59.50" width="5.04" height="1.915" fill="#f3f5fd"/>
<rect x="85.90" y="59.50" width="5.94" height="1.915" fill="#fdebeb"/>
<rect x="90.94" y="59.50" width="5.94" height="1.915" fill="#fef2f2"/>
<rect x="95.98" y="59.50" width="5.94" height="1.915" fill="#fef2f2"/>
<rect x="101.02" y="59.50" width="5.94" height="1.915" fill="#fef2f2"/>
<rect x="106.06" y="59.50" width="5.94" height="1.915" fill="#fce6e6"/>
<rect x="111.10" y="59.50" width="5.94" height="1.915" fill="#fce6e6"/>
<rect x="116.14" y="59.50" width="5.94" height="1.915" fill="#fce6e6"/>
<rect x="121.18" y="59.50" width="5.94" height="1.915" fill="#fce6e6"/>
<rect x="126.22" y="59.50" width="5.94" height="1.915" fill="#fce6e6"/>
<rect x="131.26" y="59.50" width="5.94" height="1.915" fill="#fce6e6"/>
<rect x="136.30" y="59.50" width="5.94" height="1.915" fill="#fce6e6"/>
<rect x="141.34" y="59.50" width="5.94" height="1.915" fill="#fce6e6"/>
<rect x="146.38" y="59.50" width="5.94" height="1.915" fill="#fce6e6"/>
<rect x="151.42" y="59.50" width="5.94" height="1.915" fill="#fce6e6"/>
<rect x="156.46" y="59.50" width="5.94" height="1.915" fill="#fce6e6"/>
<rect x="161.50" y="59.50" width="5.94" height="1.915" fill="#fce6e6"/>
<rect x="166.54" y="59.50" width="5.94" height="1.915" fill="#fce6e6"/>
<rect x="171.58" y="59.50" width="5.94" height="1.915" fill="#fce6e6"/>
<rect x="176.62" y="59.50" width="5.94" height="1.915" fill="#fce6e6"/>
<rect x="181.66" y="59.50" width="5.94" height="1.915" fill="#fce6e6"/>
<rect x="186.70" y="59.50" width="5.94" height="1.915" fill="#fce6e6"/>
<rect x="191.74" y="59.50" width="5.94" height="1.915" fill="#fce6e6"/>
<rect x="196.78" y="59.50" width="5.94" height="1.915" fill="#fce6e6"/>
<rect x="201.82" y="59.50" width="5.94" height="1.915" fill="#fce6e6"/>
<rect x="206.86" y="59.50" width="5.94" height="1.915" fill="#f8b2b2"/>
<rect x="211.90" y="59.50" width="5.94" height="1.915" fill="#f59999"/>
<rect x="216.94" y="59.50" width="5.94" height="1.915" fill="#f59999"/>
<rect x="221.98" y="59.50" width="5.94" height="1.915" fill="#f59999"/>
<rect x="227.02" y="59.50" width="5.94" height="1.915" fill="#f28080"/>
<rect x="232.06" y="59.50" width="5.94" height="1.915" fill="#f28080"/>
<rect x="237.10" y="59.50" width="5.94" height="1.915" fill="#fce6e6"/>
<rect x="242.14" y="59.50" width="5.94" height="1.915" fill="#f06666"/>
<rect x="247.18" y="59.50" width="5.94" height="1.915" fill="#ee4d4d"/>
<rect x="252.22" y="59.50" width="5.04" height="1.915" fill="#ee4d4d"/>
<rect x="262.30" y="59.50" width="5.04" height="1.915" fill="#e70d0d"/>
<rect x="277.42" y="59.50" width="5.94" height="1.915" fill="#ced8f8"/>
<rect x="282.46" y="59.50" width="5.04" height="1.915" fill="#2250e0"/>
<rect x="55.66" y="61.36" width="5.94" height="1.915" fill="#f3f5fd"/>
<rect x="60.70" y="61.36" width="5.04" height="1.915" fill="#f3f5fd"/>
<rect x="80.86" y="61.36" width="5.04" height="1.915" fill="#e6ecfc"/>
<rect x="90.94" y="61.36" width="5.94" height="1.915" fill="#ebeffc"/>
<rect x="95.98" y="61.36" width="5.94" height="1.915" fill="#ebeffc"/>
<rect x="101.02" y="61.36" width="5.04" height="1.915" fill="#ebeffc"/>
<rect x="111.10" y="61.36" width="5.94" height="1.915" fill="#b6c4f4"/>
<rect x="116.14" y="61.36" width="5.94" height="1.915" fill="#dae2fa"/>
<rect x="121.18" y="61.36" width="5.94" height="1.915" fill="#dae2fa"/>
<rect x="126.22" y="61.36" width="5.94" height="1.915" fill="#dae2fa"/>
<rect x="131.26" y="61.36" width="5.04" height="1.915" fill="#c2cef6"/>
<rect x="141.34" y="61.36" width="5.94" height="1.915" fill="#e6ecfc"/>
<rect x="146.38" y="61.36" width="5.94" height="1.915" fill="#e6ecfc"/>
<rect x="151.42" y="61.36" width="5.04" height="1.915" fill="#e6ecfc"/>
<rect x="161.50" y="61.36" width="5.94" height="1.915" fill="#6c8aea"/>
<rect x="166.54" y="61.36" width="5.94" height="1.915" fill="#ebeffc"/>
<rect x="171.58" y="61.36" width="5.94" height="1.915" fill="#dae2fa"/>
<rect x="176.62" y="61.36" width="5.04" height="1.915" fill="#dae2fa"/>
<rect x="186.70" y="61.36" width="5.94" height="1.915" fill="#dae2fa"/>
<rect x="191.74" y="61.36" width="5.04" height="1.915" fill="#dae2fa"/>
<rect x="201.82" y="61.36" width="5.04" height="1.915" fill="#5477e6"/>
<rect x="211.90" y="61.36" width="5.94" height="1.915" fill="#3b63e3"/>
<rect x="216.94" y="61.36" width="5.94" height="1.915" fill="#0a3cdc"/>
<rect x="221.98" y="61.36" width="5.94" height="1.915" fill="#0a3cdc"/>
<rect x="227.02" y="61.36" width="5.94" height="1.915" fill="#849eee"/>
<rect x="232.06" y="61.36" width="5.04" height="1.915" fill="#849eee"/>
<rect x="242.14" y="61.36" width="5.04" height="1.915" fill="#a9bbf3"/>
<rect x="277.42" y="61.36" width="5.94" height="1.915" fill="#ced8f8"/>
<rect x="282.46" y="61.36" width="5.04" height="1.915" fill="#2250e0"/>
<rect x="85.90" y="63.23" width="5.04" height="1.915" fill="#fef5f5"/>
<rect x="201.82" y="63.23" width="5.94" height="1.915" fill="#f8b2b2"/>
<rect x="206.86" y="63.23" width="5.04" height="1.915" fill="#f8b2b2"/>
<rect x="227.02" y="63.23" width="5.94" height="1.915" fill="#f28080"/>
<rect x="232.06" y="63.23" width="5.94" height="1.915" fill="#f28080"/>
<rect x="237.10" y="63.23" width="5.04" height="1.915" fill="#f48c8c"/>
<rect x="247.18" y="63.23" width="5.94" height="1.915" fill="#f59999"/>
<rect x="252.22" y="63.23" width="5.04" height="1.915" fill="#f59999"/>
<rect x="262.30" y="63.23" width="5.04" height="1.915" fill="#e60000"/>
<rect x="277.42" y="63.23" width="5.94" height="1.915" fill="#ced8f8"/>
<rect x="282.46" y="63.23" width="5.04" height="1.915" fill="#2250e0"/>
<rect x="45.58" y="65.09" width="5.94" height="1.915" fill="#fef0f0"/>
<rect x="50.62" y="65.09" width="5.94" height="1.915" fill="#fef0f0"/>
<rect x="55.66" y="65.09" width="5.94" height="1.915" fill="#fef0f0"/>
<rect x="60.70" y="65.09" width="5.04" height="1.915" fill="#fef0f0"/>
<rect x="70.78" y="65.09" width="5.94" height="1.915" fill="#fbd9d9"/>
<rect x="75.82" y="65.09" width="5.04" height="1.915" fill="#fbd9d9"/>
<rect x="90.94" y="65.09" width="5.94" height="1.915" fill="#fce6e6"/>
<rect x="95.98" y="65.09" width="5.94" height="1.915" fill="#fce6e6"/>
<rect x="101.02" y="65.09" width="5.94" height="1.915" fill="#fce6e6"/>
<rect x="106.06" y="65.09" width="5.94" height="1.915" fill="#facccc"/>
<rect x="111.10" y="65.09" width="5.04" height="1.915" fill="#facccc"/>
<rect x="121.18" y="65.09" width="5.94" height="1.915" fill="#fce6e6"/>
<rect x="126.22" y="65.09" width="5.94" height="1.915" fill="#fce6e6"/>
<rect x="131.26" y="65.09" width="5.94" height="1.915" fill="#f6a6a6"/>
<rect x="136.30" y="65.09" width="5.94" height="1.915" fill="#f6a6a6"/>
<rect x="141.34" y="65.09" width="5.94" height="1.915" fill="#f6a6a6"/>
<rect x="146.38" y="65.09" width="5.94" height="1.915" fill="#f59999"/>
<rect x="151.42" y="65.09" width="5.94" height="1.915" fill="#f59999"/>
<rect x="156.46" y="65.09" width="5.94" height="1.915" fill="#ef5959"/>
<rect x="161.50" y="65.09" width="5.94" height="1.915" fill="#ef5959"/>
<rect x="166.54" y="65.09" width="5.94" height="1.915" fill="#facccc"/>
<rect x="171.58" y="65.09" width="5.94" height="1.915" fill="#facccc"/>
<rect x="176.62" y="65.09" width="5.94" height="1.915" fill="#facccc"/>
<rect x="181.66" y="65.09" width="5.94" height="1.915" fill="#facccc"/>
<rect x="186.70" y="65.09" width="5.94" height="1.915" fill="#f48c8c"/>
<rect x="191.74" y="65.09" width="5.94" height="1.915" fill="#f48c8c"/>
<rect x="196.78" y="65.09" width="5.04" height="1.915" fill="#e81919"/>
<rect x="211.90" y="65.09" width="5.04" height="1.915" fill="#facccc"/>
<rect x="221.98" y="65.09" width="5.04" height="1.915" fill="#f06666"/>
<rect x="267.34" y="65.09" width="5.94" height="1.915" fill="#b6c4f4"/>
<rect x="272.38" y="65.09" width="5.94" height="1.915" fill="#b6c4f4"/>
<rect x="277.42" y="65.09" width="5.94" height="1.915" fill="#2250e0"/>
<rect x="282.46" y="65.09" width="5.04" height="1.915" fill="#b6c4f4"/>
<rect x="45.58" y="66.95" width="5.94" height="1.915" fill="#ebeffc"/>
<rect x="50.62" y="66.95" width="5.94" height="1.915" fill="#ced8f8"/>
<rect x="55.66" y="66.95" width="5.04" height="1.915" fill="#ced8f8"/>
<rect x="70.78" y="66.95" width="5.94" height="1.915" fill="#ebeffc"/>
<rect x="75.82" y="66.95" width="5.94" height="1.915" fill="#ebeffc"/>
<rect x="80.86" y="66.95" width="5.04" height="1.915" fill="#a9bbf3"/>
<rect x="90.94" y="66.95" width="5.94" height="1.915" fill="#e6ecfc"/>
<rect x="95.98" y="66.95" width="5.94" height="1.915" fill="#e6ecfc"/>
<rect x="101.02" y="66.95" width="5.94" height="1.915" fill="#ced8f8"/>
<rect x="106.06" y="66.95" width="5.94" height="1.915" fill="#b6c4f4"/>
<rect x="111.10" y="66.95" width="5.94" height="1.915" fill="#849eee"/>
<rect x="116.14" y="66.95" width="5.94" height="1.915" fill="#849eee"/>
<rect x="121.18" y="66.95" width="5.94" height="1.915" fill="#b6c4f4"/>
<rect x="126.22" y="66.95" width="5.94" height="1.915" fill="#b6c4f4"/>
<rect x="131.26" y="66.95" width="5.94" height="1.915" fill="#b6c4f4"/>
<rect x="136.30" y="66.95" width="5.94" height="1.915" fill="#b6c4f4"/>
<rect x="141.34" y="66.95" width="5.94" height="1.915" fill="#b6c4f4"/>
<rect x="146.38" y="66.95" width="5.94" height="1.915" fill="#b6c4f4"/>
<rect x="151.42" y="66.95" width="5.94" height="1.915" fill="#b6c4f4"/>
<rect x="156.46" y="66.95" width="5.94" height="1.915" fill="#6c8aea"/>
<rect x="161.50" y="66.95" width="5.94" height="1.915" fill="#0a3cdc"/>
<rect x="166.54" y="66.95" width="5.94" height="1.915" fill="#9db1f1"/>
<rect x="171.58" y="66.95" width="5.94" height="1.915" fill="#9db1f1"/>
<rect x="176.62" y="66.95" width="5.94" height="1.915" fill="#9db1f1"/>
<rect x="181.66" y="66.95" width="5.94" height="1.915" fill="#9db1f1"/>
<rect x="186.70" y="66.95" width="5.94" height="1.915" fill="#9db1f1"/>
<rect x="191.74" y="66.95" width="5.94" height="1.915" fill="#9db1f1"/>
<rect x="196.78" y="66.95" width="5.94" height="1.915" fill="#3b63e3"/>
<rect x="201.82" y="66.95" width="5.94" height="1.915" fill="#849eee"/>
<rect x="206.86" y="66.95" width="5.94" height="1.915" fill="#ced8f8"/>
<rect x="211.90" y="66.95" width="5.94" height="1.915" fill="#ced8f8"/>
<rect x="216.94" y="66.95" width="5.94" height="1.915" fill="#ced8f8"/>
<rect x="221.98" y="66.95" width="5.94" height="1.915" fill="#ced8f8"/>
<rect x="227.02" y="66.95" width="5.94" height="1.915" fill="#e6ecfc"/>
<rect x="232.06" y="66.95" width="5.04" height="1.915" fill="#e6ecfc"/>
<rect x="257.26" y="66.95" width="5.94" height="1.915" fill="#facccc"/>
<rect x="262.30" y="66.95" width="5.94" height="1.915" fill="#facccc"/>
<rect x="267.34" y="66.95" width="5.94" height="1.915" fill="#f28080"/>
<rect x="272.38" y="66.95" width="5.94" height="1.915" fill="#f28080"/>
<rect x="277.42" y="66.95" width="5.94" height="1.915" fill="#f28080"/>
<rect x="282.46" y="66.95" width="5.04" height="1.915" fill="#e81919"/>
<rect x="80.86" y="68.82" width="5.04" height="1.915" fill="#e2e8fb"/>
<rect x="201.82" y="68.82" width="5.04" height="1.915" fill="#7894ec"/>
<rect x="227.02" y="68.82" width="5.94" height="1.915" fill="#6c8aea"/>
<rect x="232.06" y="68.82" width="5.94" height="1.915" fill="#6c8aea"/>
<rect x="237.10" y="68.82" width="5.94" height="1.915" fill="#9db1f1"/>
<rect x="242.14" y="68.82" width="5.94" height="1.915" fill="#5477e6"/>
<rect x="247.18" y="68.82" width="5.94" height="1.915" fill="#5477e6"/>
<rect x="252.22" y="68.82" width="5.94" height="1.915" fill="#5477e6"/>
<rect x="257.26" y="68.82" width="5.94" height="1.915" fill="#5477e6"/>
<rect x="262.30" y="68.82" width="5.94" height="1.915" fill="#0a3cdc"/>
<rect x="267.34" y="68.82" width="5.04" height="1.915" fill="#849eee"/>
<rect x="282.46" y="68.82" width="5.04" height="1.915" fill="#e81919"/>
<rect x="80.86" y="70.69" width="5.04" height="1.915" fill="#e2e8fb"/>
<rect x="156.46" y="70.69" width="5.94" height="1.915" fill="#b6c4f4"/>
<rect x="161.50" y="70.69" width="5.04" height="1.915" fill="#b6c4f4"/>
<rect x="262.30" y="70.69" width="5.04" height="1.915" fill="#6c8aea"/>
<rect x="272.38" y="70.69" width="5.94" height="1.915" fill="#fef2f2"/>
<rect x="277.42" y="70.69" width="5.94" height="1.915" fill="#fef2f2"/>
<rect x="282.46" y="70.69" width="5.04" height="1.915" fill="#e81919"/>
<rect x="216.94" y="72.55" width="5.94" height="1.915" fill="#f3f5fd"/>
<rect x="221.98" y="72.55" width="5.04" height="1.915" fill="#f3f5fd"/>
<rect x="282.46" y="72.55" width="5.04" height="1.915" fill="#e81919"/>
<rect x="65.74" y="74.41" width="5.94" height="1.915" fill="#fdebeb"/>
<rect x="70.78" y="74.41" width="5.04" height="1.915" fill="#fdebeb"/>
<rect x="106.06" y="74.41" width="5.94" height="1.915" fill="#fef2f2"/>
<rect x="111.10" y="74.41" width="5.04" height="1.915" fill="#fef2f2"/>
<rect x="216.94" y="74.41" width="5.94" height="1.915" fill="#f3f5fd"/>
<rect x="221.98" y="74.41" width="5.04" height="1.915" fill="#f3f5fd"/>
<rect x="247.18" y="74.41" width="5.94" height="1.915" fill="#f28080"/>
<rect x="252.22" y="74.41" width="5.04" height="1.915" fill="#e81919"/>
<rect x="272.38" y="74.41" width="5.94" height="1.915" fill="#b6c4f4"/>
<rect x="277.42" y="74.41" width="5.94" height="1.915" fill="#2250e0"/>
<rect x="282.46" y="74.41" width="5.04" height="1.915" fill="#3b63e3"/>
<rect x="201.82" y="76.28" width="5.04" height="1.915" fill="#e81919"/>
<rect x="277.42" y="76.28" width="5.94" height="1.915" fill="#9db1f1"/>
<rect x="282.46" y="76.28" width="5.04" height="1.915" fill="#0a3cdc"/>
<rect x="206.86" y="78.15" width="5.04" height="1.915" fill="#eb3333"/>
<rect x="216.94" y="78.15" width="5.04" height="1.915" fill="#fbd9d9"/>
<rect x="227.02" y="78.15" width="5.04" height="1.915" fill="#f59999"/>
<rect x="237.10" y="78.15" width="5.04" height="1.915" fill="#f59999"/>
<rect x="282.46" y="78.15" width="5.04" height="1.915" fill="#0a3cdc"/>
<rect x="363.4" y="17.1" width="251.20000000000005" height="64.30000000000001" fill="none" stroke="#ebebeb" stroke-width="0.8"/>
<text x="361.20" y="20.82" font-size="7.5" text-anchor="end" font-weight="normal" fill="#505050" >0</text>
<text x="361.20" y="36.90" font-size="7.5" text-anchor="end" font-weight="normal" fill="#505050" >25</text>
<text x="361.20" y="52.97" font-size="7.5" text-anchor="end" font-weight="normal" fill="#505050" >50</text>
<text x="361.20" y="69.05" font-size="7.5" text-anchor="end" font-weight="normal" fill="#505050" >75</text>
<rect x="533.19" y="17.9" width="10.28" height="63.40" fill="#f0f3fd"/>
<rect x="542.87" y="17.9" width="10.28" height="63.40" fill="#e6ecfc"/>
<rect x="552.55" y="17.9" width="10.28" height="63.40" fill="#e6ecfc"/>
<rect x="562.24" y="17.9" width="10.28" height="63.40" fill="#d3dcf9"/>
<rect x="571.92" y="17.9" width="10.28" height="63.40" fill="#d3dcf9"/>
<rect x="581.60" y="17.9" width="10.28" height="63.40" fill="#ced8f8"/>
<rect x="591.28" y="17.9" width="10.28" height="63.40" fill="#c9d4f7"/>
<rect x="407.31" y="25.07" width="9.78" height="1.08" fill="#f28080"/>
<rect x="387.94" y="26.90" width="9.78" height="0.86" fill="#facccc"/>
<rect x="397.62" y="26.90" width="9.78" height="1.08" fill="#f17373"/>
<rect x="387.94" y="28.84" width="9.78" height="0.86" fill="#fbd9d9"/>
<rect x="397.62" y="28.84" width="9.78" height="0.86" fill="#f8b2b2"/>
<rect x="387.94" y="30.99" width="9.78" height="0.86" fill="#e6ecfc"/>
<rect x="397.62" y="30.99" width="9.78" height="1.08" fill="#6c8aea"/>
<rect x="378.26" y="32.07" width="9.78" height="0.65" fill="#fce6e6"/>
<rect x="397.62" y="32.07" width="9.78" height="0.65" fill="#f9bfbf"/>
<rect x="416.99" y="32.07" width="9.78" height="0.65" fill="#facccc"/>
<rect x="397.62" y="34.22" width="9.78" height="1.29" fill="#7894ec"/>
<rect x="378.26" y="36.91" width="9.78" height="0.54" fill="#fef2f2"/>
<rect x="387.94" y="36.91" width="9.78" height="0.54" fill="#fef2f2"/>
<rect x="397.62" y="36.91" width="9.78" height="0.54" fill="#fef2f2"/>
<rect x="407.31" y="36.91" width="9.78" height="0.54" fill="#fef2f2"/>
<rect x="416.99" y="36.91" width="9.78" height="0.54" fill="#fef2f2"/>
<rect x="426.67" y="36.91" width="9.78" height="0.54" fill="#fef2f2"/>
<rect x="407.31" y="39.82" width="9.78" height="1.08" fill="#f17373"/>
<rect x="387.94" y="41.76" width="9.78" height="1.08" fill="#dae2fa"/>
<rect x="397.62" y="41.76" width="9.78" height="1.08" fill="#7894ec"/>
<rect x="416.99" y="43.37" width="9.78" height="1.08" fill="#dae2fa"/>
<rect x="426.67" y="43.37" width="9.78" height="1.29" fill="#c2cef6"/>
<rect x="397.62" y="48.22" width="9.78" height="1.08" fill="#f3f5fd"/>
<rect x="416.99" y="48.22" width="9.78" height="1.08" fill="#f3f5fd"/>
<rect x="426.67" y="48.22" width="9.78" height="1.08" fill="#f3f5fd"/>
<rect x="475.09" y="19.69" width="9.78" height="1.08" fill="#e2e8fb"/>
<rect x="475.09" y="22.60" width="9.78" height="1.08" fill="#dae2fa"/>
<rect x="484.77" y="22.60" width="9.78" height="1.08" fill="#ebeffc"/>
<rect x="446.04" y="26.69" width="9.78" height="1.08" fill="#f8b2b2"/>
<rect x="455.72" y="31.85" width="9.78" height="0.86" fill="#fce0e0"/>
<rect x="475.09" y="31.64" width="9.78" height="1.29" fill="#e81919"/>
<rect x="484.77" y="31.85" width="9.78" height="0.86" fill="#facccc"/>
<rect x="436.36" y="33.90" width="9.78" height="0.65" fill="#fdebeb"/>
<rect x="484.77" y="35.08" width="9.78" height="0.86" fill="#fce6e6"/>
<rect x="436.36" y="36.81" width="9.78" height="0.86" fill="#f9bfbf"/>
<rect x="446.04" y="36.81" width="9.78" height="0.86" fill="#ebeffc"/>
<rect x="455.72" y="36.81" width="9.78" height="0.86" fill="#ebeffc"/>
<rect x="465.41" y="36.81" width="9.78" height="0.86" fill="#ebeffc"/>
<rect x="475.09" y="39.17" width="9.78" height="0.86" fill="#fbd9d9"/>
<rect x="484.77" y="39.17" width="9.78" height="0.86" fill="#fbd9d9"/>
<rect x="455.72" y="43.26" width="9.78" height="1.29" fill="#9db1f1"/>
<rect x="465.41" y="43.26" width="9.78" height="1.29" fill="#dae2fa"/>
<rect x="475.09" y="43.05" width="9.78" height="1.72" fill="#0a3cdc"/>
<rect x="475.09" y="48.22" width="9.78" height="1.08" fill="#e2e8fb"/>
<rect x="513.82" y="17.90" width="9.78" height="1.47" fill="#fbd9d9"/>
<rect x="533.19" y="17.90" width="9.78" height="1.47" fill="#ec4040"/>
<rect x="542.87" y="17.90" width="9.78" height="1.47" fill="#f48c8c"/>
<rect x="533.19" y="19.69" width="9.78" height="1.61" fill="#6c8aea"/>
<rect x="542.87" y="19.69" width="9.78" height="1.08" fill="#b6c4f4"/>
<rect x="494.45" y="21.31" width="9.78" height="1.08" fill="#dae2fa"/>
<rect x="504.14" y="21.31" width="9.78" height="1.08" fill="#dae2fa"/>
<rect x="513.82" y="21.31" width="9.78" height="1.08" fill="#c2cef6"/>
<rect x="533.19" y="21.31" width="9.78" height="1.61" fill="#0a3cdc"/>
<rect x="542.87" y="21.31" width="9.78" height="1.08" fill="#91a7ef"/>
<rect x="494.45" y="22.92" width="9.78" height="1.08" fill="#ced8f8"/>
<rect x="504.14" y="22.92" width="9.78" height="1.08" fill="#ced8f8"/>
<rect x="513.82" y="22.92" width="9.78" height="1.08" fill="#a9bbf3"/>
<rect x="523.50" y="22.92" width="9.78" height="1.08" fill="#0a3cdc"/>
<rect x="533.19" y="22.92" width="9.78" height="2.15" fill="#0a3cdc"/>
<rect x="542.87" y="22.92" width="9.78" height="1.08" fill="#849eee"/>
<rect x="533.19" y="25.61" width="9.78" height="1.08" fill="#fce6e6"/>
<rect x="513.82" y="27.23" width="9.78" height="1.08" fill="#e6ecfc"/>
<rect x="533.19" y="27.23" width="9.78" height="1.08" fill="#9db1f1"/>
<rect x="542.87" y="27.23" width="9.78" height="1.08" fill="#fbd9d9"/>
<rect x="494.45" y="28.84" width="9.78" height="1.08" fill="#e6ecfc"/>
<rect x="504.14" y="28.84" width="9.78" height="1.08" fill="#e6ecfc"/>
<rect x="513.82" y="28.84" width="9.78" height="1.08" fill="#e6ecfc"/>
<rect x="533.19" y="28.63" width="9.78" height="1.51" fill="#6c8aea"/>
<rect x="542.87" y="28.84" width="9.78" height="1.08" fill="#ced8f8"/>
<rect x="533.19" y="30.46" width="9.78" height="1.08" fill="#fbd9d9"/>
<rect x="542.87" y="30.46" width="9.78" height="1.08" fill="#fdebeb"/>
<rect x="513.82" y="32.39" width="9.78" height="1.08" fill="#e6ecfc"/>
<rect x="533.19" y="32.39" width="9.78" height="1.29" fill="#9db1f1"/>
<rect x="523.50" y="34.76" width="9.78" height="1.08" fill="#f8b2b2"/>
<rect x="542.87" y="34.44" width="9.78" height="1.72" fill="#e81919"/>
<rect x="494.45" y="36.16" width="9.78" height="0.86" fill="#e6ecfc"/>
<rect x="504.14" y="36.16" width="9.78" height="0.86" fill="#e6ecfc"/>
<rect x="513.82" y="36.16" width="9.78" height="0.86" fill="#dae2fa"/>
<rect x="533.19" y="35.95" width="9.78" height="1.29" fill="#6080e8"/>
<rect x="542.87" y="36.16" width="9.78" height="1.08" fill="#f59999"/>
<rect x="494.45" y="38.85" width="9.78" height="1.08" fill="#fbd9d9"/>
<rect x="504.14" y="38.85" width="9.78" height="1.08" fill="#fbd9d9"/>
<rect x="513.82" y="38.85" width="9.78" height="1.08" fill="#facccc"/>
<rect x="533.19" y="38.53" width="9.78" height="1.72" fill="#ea2626"/>
<rect x="542.87" y="38.53" width="9.78" height="1.51" fill="#f6a6a6"/>
<rect x="533.19" y="40.25" width="9.78" height="0.86" fill="#facccc"/>
<rect x="542.87" y="40.25" width="9.78" height="0.86" fill="#e6ecfc"/>
<rect x="533.19" y="41.76" width="9.78" height="1.51" fill="#5477e6"/>
<rect x="542.87" y="41.76" width="9.78" height="1.51" fill="#fce6e6"/>
<rect x="513.82" y="43.91" width="9.78" height="1.08" fill="#e6ecfc"/>
<rect x="533.19" y="43.70" width="9.78" height="1.51" fill="#91a7ef"/>
<rect x="542.87" y="43.91" width="9.78" height="1.08" fill="#dae2fa"/>
<rect x="533.19" y="46.28" width="9.78" height="1.29" fill="#b6c4f4"/>
<rect x="542.87" y="46.28" width="9.78" height="1.29" fill="#fdebeb"/>
<rect x="523.50" y="48.75" width="9.78" height="1.08" fill="#e6ecfc"/>
<rect x="533.19" y="48.75" width="9.78" height="1.08" fill="#ced8f8"/>
<rect x="504.14" y="49.83" width="9.78" height="1.18" fill="#fce6e6"/>
<rect x="513.82" y="49.83" width="9.78" height="1.18" fill="#fbd9d9"/>
<rect x="533.19" y="49.51" width="9.78" height="1.51" fill="#eb3333"/>
<rect x="552.55" y="17.90" width="9.78" height="0.18" fill="#b6c4f4"/>
<rect x="552.55" y="18.61" width="9.78" height="1.08" fill="#fce6e6"/>
<rect x="552.55" y="20.23" width="9.78" height="1.61" fill="#dae2fa"/>
<rect x="552.55" y="24.00" width="9.78" height="1.08" fill="#fbd9d9"/>
<rect x="552.55" y="27.76" width="9.78" height="1.61" fill="#f59999"/>
<rect x="552.55" y="29.92" width="9.78" height="1.08" fill="#dae2fa"/>
<rect x="552.55" y="32.07" width="9.78" height="1.08" fill="#ced8f8"/>
<rect x="552.55" y="33.68" width="9.78" height="1.08" fill="#f8b2b2"/>
<rect x="552.55" y="35.30" width="9.78" height="1.08" fill="#fce6e6"/>
<rect x="552.55" y="36.91" width="9.78" height="1.08" fill="#f9bfbf"/>
<rect x="552.55" y="38.53" width="9.78" height="1.08" fill="#e6ecfc"/>
<rect x="552.55" y="40.14" width="9.78" height="1.61" fill="#fbd9d9"/>
<rect x="552.55" y="42.83" width="9.78" height="1.08" fill="#e6ecfc"/>
<rect x="552.55" y="44.99" width="9.78" height="1.08" fill="#fbd9d9"/>
<rect x="552.55" y="47.68" width="9.78" height="1.61" fill="#2f59e1"/>
<rect x="552.55" y="49.83" width="9.78" height="1.18" fill="#facccc"/>
<rect x="562.24" y="17.90" width="9.78" height="0.39" fill="#fce6e6"/>
<rect x="562.24" y="19.15" width="9.78" height="1.08" fill="#e6ecfc"/>
<rect x="562.24" y="20.23" width="9.78" height="2.15" fill="#1646de"/>
<rect x="562.24" y="22.92" width="9.78" height="1.08" fill="#facccc"/>
<rect x="562.24" y="24.32" width="9.78" height="1.51" fill="#91a7ef"/>
<rect x="562.24" y="26.15" width="9.78" height="1.08" fill="#fce6e6"/>
<rect x="562.24" y="27.76" width="9.78" height="2.15" fill="#a9bbf3"/>
<rect x="562.24" y="29.92" width="9.78" height="1.61" fill="#c2cef6"/>
<rect x="562.24" y="32.07" width="9.78" height="1.08" fill="#fbd9d9"/>
<rect x="562.24" y="33.15" width="9.78" height="1.08" fill="#b6c4f4"/>
<rect x="562.24" y="34.76" width="9.78" height="1.08" fill="#ced8f8"/>
<rect x="562.24" y="36.38" width="9.78" height="1.08" fill="#f8b2b2"/>
<rect x="562.24" y="37.45" width="9.78" height="1.08" fill="#b6c4f4"/>
<rect x="562.24" y="39.07" width="9.78" height="1.08" fill="#e81919"/>
<rect x="562.24" y="41.76" width="9.78" height="1.61" fill="#6c8aea"/>
<rect x="562.24" y="43.91" width="9.78" height="1.08" fill="#facccc"/>
<rect x="562.24" y="45.53" width="9.78" height="1.08" fill="#b6c4f4"/>
<rect x="562.24" y="47.14" width="9.78" height="1.08" fill="#ced8f8"/>
<rect x="562.24" y="49.29" width="9.78" height="1.72" fill="#a9bbf3"/>
<rect x="571.92" y="17.90" width="9.78" height="0.18" fill="#6c8aea"/>
<rect x="571.92" y="18.61" width="9.78" height="1.08" fill="#facccc"/>
<rect x="571.92" y="20.23" width="9.78" height="1.61" fill="#9db1f1"/>
<rect x="571.92" y="22.38" width="9.78" height="1.08" fill="#b6c4f4"/>
<rect x="571.92" y="24.00" width="9.78" height="1.08" fill="#facccc"/>
<rect x="571.92" y="25.61" width="9.78" height="1.08" fill="#6c8aea"/>
<rect x="571.92" y="27.23" width="9.78" height="2.15" fill="#fce6e6"/>
<rect x="571.92" y="29.92" width="9.78" height="1.61" fill="#9db1f1"/>
<rect x="571.92" y="32.07" width="9.78" height="1.61" fill="#ced8f8"/>
<rect x="571.92" y="34.22" width="9.78" height="1.08" fill="#f9bfbf"/>
<rect x="571.92" y="35.84" width="9.78" height="1.61" fill="#ced8f8"/>
<rect x="571.92" y="37.99" width="9.78" height="2.15" fill="#f28080"/>
<rect x="571.92" y="40.68" width="9.78" height="1.61" fill="#91a7ef"/>
<rect x="571.92" y="42.83" width="9.78" height="1.08" fill="#f8b2b2"/>
<rect x="571.92" y="44.45" width="9.78" height="0.75" fill="#849eee"/>
<rect x="571.92" y="45.53" width="9.78" height="1.08" fill="#3b63e3"/>
<rect x="571.92" y="47.68" width="9.78" height="1.08" fill="#f06666"/>
<rect x="571.92" y="49.29" width="9.78" height="1.08" fill="#c2cef6"/>
<rect x="581.60" y="17.90" width="9.78" height="0.18" fill="#9db1f1"/>
<rect x="581.60" y="18.61" width="9.78" height="1.08" fill="#f9bfbf"/>
<rect x="581.60" y="20.77" width="9.78" height="1.61" fill="#6a3aa8"/>
<rect x="581.60" y="22.92" width="9.78" height="1.08" fill="#facccc"/>
<rect x="581.60" y="25.07" width="9.78" height="5.92" fill="#0a3cdc"/>
<rect x="581.60" y="31.53" width="9.78" height="1.08" fill="#b6c4f4"/>
<rect x="581.60" y="33.15" width="9.78" height="1.29" fill="#849eee"/>
<rect x="581.60" y="34.76" width="9.78" height="1.61" fill="#f28080"/>
<rect x="581.60" y="36.38" width="9.78" height="1.61" fill="#ea2626"/>
<rect x="581.60" y="38.53" width="9.78" height="1.29" fill="#a9bbf3"/>
<rect x="581.60" y="40.14" width="9.78" height="1.40" fill="#f59999"/>
<rect x="581.60" y="41.76" width="9.78" height="1.61" fill="#2f59e1"/>
<rect x="581.60" y="43.91" width="9.78" height="1.61" fill="#fbd9d9"/>
<rect x="581.60" y="46.06" width="9.78" height="1.08" fill="#6c8aea"/>
<rect x="581.60" y="47.68" width="9.78" height="1.61" fill="#f8b2b2"/>
<rect x="581.60" y="49.29" width="9.78" height="1.72" fill="#91a7ef"/>
<rect x="591.28" y="17.90" width="9.78" height="0.18" fill="#f8b2b2"/>
<rect x="591.28" y="18.61" width="9.78" height="1.08" fill="#b6c4f4"/>
<rect x="591.28" y="19.69" width="9.78" height="2.15" fill="#f06666"/>
<rect x="591.28" y="21.84" width="9.78" height="1.08" fill="#fce6e6"/>
<rect x="591.28" y="22.92" width="9.78" height="1.61" fill="#f28080"/>
<rect x="591.28" y="25.07" width="9.78" height="2.15" fill="#c2cef6"/>
<rect x="591.28" y="27.23" width="9.78" height="2.15" fill="#f28080"/>
<rect x="591.28" y="29.92" width="9.78" height="2.15" fill="#a9bbf3"/>
<rect x="591.28" y="32.61" width="9.78" height="1.61" fill="#849eee"/>
<rect x="591.28" y="34.22" width="9.78" height="1.61" fill="#f6a6a6"/>
<rect x="591.28" y="36.38" width="9.78" height="1.61" fill="#f06666"/>
<rect x="591.28" y="38.53" width="9.78" height="1.61" fill="#ced8f8"/>
<rect x="591.28" y="40.68" width="9.78" height="1.61" fill="#ec4040"/>
<rect x="591.28" y="42.83" width="9.78" height="1.61" fill="#ced8f8"/>
<rect x="591.28" y="44.99" width="9.78" height="1.61" fill="#f28080"/>
<rect x="591.28" y="47.14" width="9.78" height="1.08" fill="#b6c4f4"/>
<rect x="591.28" y="48.75" width="9.78" height="2.26" fill="#849eee"/>
<rect x="600.97" y="17.90" width="9.78" height="1.25" fill="#2250e0"/>
<rect x="600.97" y="19.15" width="9.78" height="2.69" fill="#e70d0d"/>
<rect x="600.97" y="21.84" width="9.78" height="1.61" fill="#e70d0d"/>
<rect x="600.97" y="23.46" width="9.78" height="2.15" fill="#e81919"/>
<rect x="600.97" y="25.61" width="9.78" height="4.31" fill="#b0143c"/>
<rect x="600.97" y="29.92" width="9.78" height="2.15" fill="#6c8aea"/>
<rect x="600.97" y="32.07" width="9.78" height="4.84" fill="#3a18b8"/>
<rect x="600.97" y="36.91" width="9.78" height="3.77" fill="#0a3cdc"/>
<rect x="600.97" y="40.68" width="9.78" height="6.46" fill="#e60000"/>
<rect x="600.97" y="47.68" width="9.78" height="1.61" fill="#3b63e3"/>
<rect x="600.97" y="49.29" width="9.78" height="1.72" fill="#f59999"/>
<rect x="378.26" y="51.69" width="9.78" height="1.08" fill="#f3f5fd"/>
<rect x="387.94" y="51.69" width="9.78" height="1.08" fill="#f3f5fd"/>
<rect x="397.62" y="51.69" width="9.78" height="1.08" fill="#f3f5fd"/>
<rect x="407.31" y="51.69" width="9.78" height="1.08" fill="#f3f5fd"/>
<rect x="426.67" y="56.00" width="9.78" height="1.08" fill="#f3f5fd"/>
<rect x="378.26" y="59.76" width="9.78" height="1.08" fill="#f9bfbf"/>
<rect x="387.94" y="59.76" width="9.78" height="1.08" fill="#f9bfbf"/>
<rect x="397.62" y="59.76" width="9.78" height="1.08" fill="#f48c8c"/>
<rect x="426.67" y="60.95" width="9.78" height="1.08" fill="#f48c8c"/>
<rect x="397.62" y="65.68" width="9.78" height="1.08" fill="#e6ecfc"/>
<rect x="426.67" y="65.68" width="9.78" height="1.08" fill="#dae2fa"/>
<rect x="378.26" y="75.37" width="9.78" height="1.08" fill="#c2cef6"/>
<rect x="387.94" y="75.37" width="9.78" height="1.08" fill="#c2cef6"/>
<rect x="397.62" y="75.37" width="9.78" height="1.08" fill="#c2cef6"/>
<rect x="407.31" y="75.37" width="9.78" height="1.08" fill="#e2e8fb"/>
<rect x="416.99" y="75.16" width="9.78" height="1.51" fill="#a9bbf3"/>
<rect x="426.67" y="77.85" width="9.78" height="1.08" fill="#6c8aea"/>
<rect x="475.09" y="49.86" width="9.78" height="0.86" fill="#fce0e0"/>
<rect x="484.77" y="49.86" width="9.78" height="0.86" fill="#fdebeb"/>
<rect x="446.04" y="51.80" width="9.78" height="0.86" fill="#ced8f8"/>
<rect x="455.72" y="56.21" width="9.78" height="1.08" fill="#e2e8fb"/>
<rect x="475.09" y="56.00" width="9.78" height="1.61" fill="#a9bbf3"/>
<rect x="484.77" y="56.21" width="9.78" height="1.08" fill="#f3f5fd"/>
<rect x="475.09" y="60.09" width="9.78" height="1.51" fill="#f9bfbf"/>
<rect x="484.77" y="60.30" width="9.78" height="2.15" fill="#facccc"/>
<rect x="465.41" y="60.30" width="9.78" height="1.08" fill="#fdebeb"/>
<rect x="455.72" y="65.68" width="9.78" height="1.08" fill="#b6c4f4"/>
<rect x="465.41" y="65.68" width="9.78" height="1.08" fill="#ced8f8"/>
<rect x="475.09" y="65.47" width="9.78" height="1.51" fill="#7050c8"/>
<rect x="455.72" y="69.45" width="9.78" height="1.08" fill="#ebeffc"/>
<rect x="475.09" y="69.24" width="9.78" height="1.51" fill="#ced8f8"/>
<rect x="475.09" y="72.68" width="9.78" height="1.08" fill="#fce6e6"/>
<rect x="484.77" y="72.68" width="9.78" height="1.08" fill="#fce6e6"/>
<rect x="446.04" y="74.83" width="9.78" height="1.72" fill="#5477e6"/>
<rect x="455.72" y="75.05" width="9.78" height="1.29" fill="#7894ec"/>
<rect x="446.04" y="77.74" width="9.78" height="1.08" fill="#5477e6"/>
<rect x="513.82" y="50.08" width="9.78" height="1.72" fill="#f9bfbf"/>
<rect x="533.19" y="49.86" width="9.78" height="2.15" fill="#e70d0d"/>
<rect x="542.87" y="50.29" width="9.78" height="1.29" fill="#ef5959"/>
<rect x="513.82" y="53.31" width="9.78" height="1.08" fill="#e2e8fb"/>
<rect x="533.19" y="53.09" width="9.78" height="1.51" fill="#91a7ef"/>
<rect x="542.87" y="53.31" width="9.78" height="1.08" fill="#e6ecfc"/>
<rect x="513.82" y="56.00" width="9.78" height="1.08" fill="#ebeffc"/>
<rect x="533.19" y="55.78" width="9.78" height="1.51" fill="#2f59e1"/>
<rect x="542.87" y="56.00" width="9.78" height="1.08" fill="#ced8f8"/>
<rect x="533.19" y="57.61" width="9.78" height="1.08" fill="#6c8aea"/>
<rect x="513.82" y="58.90" width="9.78" height="1.72" fill="#f8b2b2"/>
<rect x="533.19" y="59.23" width="9.78" height="1.08" fill="#facccc"/>
<rect x="494.45" y="61.59" width="9.78" height="1.08" fill="#fce6e6"/>
<rect x="504.14" y="61.59" width="9.78" height="1.08" fill="#fce6e6"/>
<rect x="513.82" y="61.59" width="9.78" height="1.08" fill="#fbd9d9"/>
<rect x="533.19" y="61.59" width="9.78" height="1.08" fill="#f8b2b2"/>
<rect x="542.87" y="61.38" width="9.78" height="1.51" fill="#ea2626"/>
<rect x="513.82" y="63.53" width="9.78" height="2.15" fill="#fbd9d9"/>
<rect x="533.19" y="62.99" width="9.78" height="3.23" fill="#ee4d4d"/>
<rect x="513.82" y="66.22" width="9.78" height="2.15" fill="#fce6e6"/>
<rect x="523.50" y="66.22" width="9.78" height="2.15" fill="#fef2f2"/>
<rect x="533.19" y="66.22" width="9.78" height="2.37" fill="#ec4040"/>
<rect x="542.87" y="66.76" width="9.78" height="1.08" fill="#fbd9d9"/>
<rect x="504.14" y="69.45" width="9.78" height="1.08" fill="#e2e8fb"/>
<rect x="513.82" y="69.45" width="9.78" height="1.08" fill="#e6ecfc"/>
<rect x="523.50" y="69.45" width="9.78" height="1.08" fill="#e6ecfc"/>
<rect x="533.19" y="69.45" width="9.78" height="1.08" fill="#c2cef6"/>
<rect x="542.87" y="69.02" width="9.78" height="1.94" fill="#6c8aea"/>
<rect x="533.19" y="71.60" width="9.78" height="1.08" fill="#f6a6a6"/>
<rect x="542.87" y="71.60" width="9.78" height="1.08" fill="#b6c4f4"/>
<rect x="513.82" y="73.43" width="9.78" height="1.08" fill="#fbd9d9"/>
<rect x="533.19" y="73.43" width="9.78" height="1.08" fill="#9db1f1"/>
<rect x="542.87" y="73.43" width="9.78" height="1.08" fill="#f28080"/>
<rect x="533.19" y="75.37" width="9.78" height="1.08" fill="#fbd9d9"/>
<rect x="542.87" y="75.37" width="9.78" height="1.08" fill="#b6c4f4"/>
<rect x="513.82" y="78.60" width="9.78" height="1.08" fill="#e6ecfc"/>
<rect x="533.19" y="78.06" width="9.78" height="2.37" fill="#2f59e1"/>
<rect x="542.87" y="78.60" width="9.78" height="1.08" fill="#facccc"/>
<rect x="552.55" y="49.00" width="9.78" height="1.08" fill="#b6c4f4"/>
<rect x="552.55" y="51.69" width="9.78" height="1.08" fill="#ced8f8"/>
<rect x="552.55" y="53.31" width="9.78" height="1.08" fill="#fbd9d9"/>
<rect x="552.55" y="54.92" width="9.78" height="3.23" fill="#b6c4f4"/>
<rect x="552.55" y="58.69" width="9.78" height="1.08" fill="#fce6e6"/>
<rect x="552.55" y="60.84" width="9.78" height="2.15" fill="#dae2fa"/>
<rect x="552.55" y="63.53" width="9.78" height="1.08" fill="#fef2f2"/>
<rect x="552.55" y="65.15" width="9.78" height="1.61" fill="#e6ecfc"/>
<rect x="552.55" y="68.38" width="9.78" height="1.61" fill="#a9bbf3"/>
<rect x="552.55" y="71.60" width="9.78" height="1.08" fill="#facccc"/>
<rect x="552.55" y="73.22" width="9.78" height="1.61" fill="#b6c4f4"/>
<rect x="552.55" y="75.91" width="9.78" height="1.29" fill="#fce6e6"/>
<rect x="552.55" y="78.06" width="9.78" height="1.61" fill="#ced8f8"/>
<rect x="562.24" y="49.00" width="9.78" height="0.86" fill="#facccc"/>
<rect x="562.24" y="50.08" width="9.78" height="1.08" fill="#b6c4f4"/>
<rect x="562.24" y="51.69" width="9.78" height="1.08" fill="#facccc"/>
<rect x="562.24" y="53.31" width="9.78" height="1.61" fill="#a9bbf3"/>
<rect x="562.24" y="55.46" width="9.78" height="1.61" fill="#fbd9d9"/>
<rect x="562.24" y="57.61" width="9.78" height="1.61" fill="#c2cef6"/>
<rect x="562.24" y="59.76" width="9.78" height="1.61" fill="#e6ecfc"/>
<rect x="562.24" y="61.92" width="9.78" height="1.08" fill="#ced8f8"/>
<rect x="562.24" y="63.53" width="9.78" height="1.61" fill="#f8b2b2"/>
<rect x="562.24" y="65.68" width="9.78" height="1.61" fill="#c2cef6"/>
<rect x="562.24" y="68.91" width="9.78" height="1.61" fill="#3b63e3"/>
<rect x="562.24" y="71.60" width="9.78" height="1.61" fill="#fce6e6"/>
<rect x="562.24" y="73.76" width="9.78" height="1.61" fill="#849eee"/>
<rect x="562.24" y="76.45" width="9.78" height="1.61" fill="#facccc"/>
<rect x="562.24" y="79.68" width="9.78" height="1.61" fill="#1646de"/>
<rect x="571.92" y="49.00" width="9.78" height="1.08" fill="#c03060"/>
<rect x="571.92" y="50.61" width="9.78" height="1.08" fill="#ced8f8"/>
<rect x="571.92" y="51.69" width="9.78" height="1.61" fill="#f6a6a6"/>
<rect x="571.92" y="53.84" width="9.78" height="1.08" fill="#b6c4f4"/>
<rect x="571.92" y="55.46" width="9.78" height="2.69" fill="#fef2f2"/>
<rect x="571.92" y="59.76" width="9.78" height="1.94" fill="#eb3333"/>
<rect x="571.92" y="62.46" width="9.78" height="1.61" fill="#b6c4f4"/>
<rect x="571.92" y="64.61" width="9.78" height="1.61" fill="#c2cef6"/>
<rect x="571.92" y="66.76" width="9.78" height="2.69" fill="#fbd9d9"/>
<rect x="571.92" y="69.99" width="9.78" height="1.61" fill="#ced8f8"/>
<rect x="571.92" y="73.22" width="9.78" height="1.61" fill="#2250e0"/>
<rect x="571.92" y="75.37" width="9.78" height="1.08" fill="#facccc"/>
<rect x="571.92" y="76.45" width="9.78" height="1.61" fill="#0a3cdc"/>
<rect x="571.92" y="79.14" width="9.78" height="1.08" fill="#f48c8c"/>
<rect x="581.60" y="49.00" width="9.78" height="2.15" fill="#b6c4f4"/>
<rect x="581.60" y="51.69" width="9.78" height="1.08" fill="#9db1f1"/>
<rect x="581.60" y="53.31" width="9.78" height="1.61" fill="#c03060"/>
<rect x="581.60" y="54.92" width="9.78" height="1.61" fill="#e60000"/>
<rect x="581.60" y="57.07" width="9.78" height="1.08" fill="#6a3aa8"/>
<rect x="581.60" y="58.15" width="9.78" height="1.08" fill="#eb3333"/>
<rect x="581.60" y="59.76" width="9.78" height="1.29" fill="#c2cef6"/>
<rect x="581.60" y="61.38" width="9.78" height="1.61" fill="#b6c4f4"/>
<rect x="581.60" y="63.53" width="9.78" height="1.61" fill="#849eee"/>
<rect x="581.60" y="66.22" width="9.78" height="1.61" fill="#f8b2b2"/>
<rect x="581.60" y="68.38" width="9.78" height="1.61" fill="#b6c4f4"/>
<rect x="581.60" y="71.60" width="9.78" height="1.61" fill="#1646de"/>
<rect x="581.60" y="74.30" width="9.78" height="1.61" fill="#f06666"/>
<rect x="581.60" y="76.45" width="9.78" height="1.61" fill="#9db1f1"/>
<rect x="581.60" y="78.60" width="9.78" height="1.61" fill="#f06666"/>
<rect x="591.28" y="49.00" width="9.78" height="2.69" fill="#7894ec"/>
<rect x="591.28" y="52.23" width="9.78" height="1.61" fill="#f28080"/>
<rect x="591.28" y="54.38" width="9.78" height="1.08" fill="#6c8aea"/>
<rect x="591.28" y="56.00" width="9.78" height="1.61" fill="#f28080"/>
<rect x="591.28" y="58.69" width="9.78" height="2.15" fill="#91a7ef"/>
<rect x="591.28" y="61.38" width="9.78" height="1.61" fill="#b6c4f4"/>
<rect x="591.28" y="64.07" width="9.78" height="1.61" fill="#f9bfbf"/>
<rect x="591.28" y="66.22" width="9.78" height="1.08" fill="#849eee"/>
<rect x="591.28" y="67.84" width="9.78" height="1.08" fill="#f8b2b2"/>
<rect x="591.28" y="69.45" width="9.78" height="1.61" fill="#6c8aea"/>
<rect x="591.28" y="71.60" width="9.78" height="1.61" fill="#facccc"/>
<rect x="591.28" y="73.76" width="9.78" height="1.61" fill="#f28080"/>
<rect x="591.28" y="75.91" width="9.78" height="1.29" fill="#b6c4f4"/>
<rect x="591.28" y="78.06" width="9.78" height="1.61" fill="#f59999"/>
<rect x="591.28" y="80.22" width="9.78" height="1.08" fill="#6c8aea"/>
<rect x="600.97" y="49.00" width="9.78" height="1.61" fill="#0a3cdc"/>
<rect x="600.97" y="50.61" width="9.78" height="1.08" fill="#e81919"/>
<rect x="600.97" y="51.69" width="9.78" height="2.15" fill="#4a20b0"/>
<rect x="600.97" y="53.84" width="9.78" height="1.61" fill="#e81919"/>
<rect x="600.97" y="55.46" width="9.78" height="2.15" fill="#eb3333"/>
<rect x="600.97" y="58.69" width="9.78" height="4.84" fill="#0a3cdc"/>
<rect x="600.97" y="63.53" width="9.78" height="5.38" fill="#4a20b0"/>
<rect x="600.97" y="68.91" width="9.78" height="1.61" fill="#f06666"/>
<rect x="600.97" y="71.07" width="9.78" height="1.61" fill="#2250e0"/>
<rect x="600.97" y="72.68" width="9.78" height="4.84" fill="#e81919"/>
<rect x="600.97" y="77.53" width="9.78" height="3.77" fill="#b0143c"/>
<defs><linearGradient id="cb293" x1="0" y1="0" x2="0" y2="1"><stop offset="0" stop-color="#e60000"/><stop offset="0.5" stop-color="#ffffff"/><stop offset="1" stop-color="#0a3cdc"/></linearGradient></defs>
<rect x="293.6" y="14.8" width="3.4" height="65.2" fill="url(#cb293)"/>
<text x="300.20" y="17.90" font-size="7.8" text-anchor="start" font-weight="bold" fill="#222" >1.0</text>
<text x="300.20" y="34.00" font-size="7.8" text-anchor="start" font-weight="bold" fill="#222" >0.5</text>
<text x="300.20" y="50.10" font-size="7.8" text-anchor="start" font-weight="bold" fill="#222" >0.0</text>
<text x="298.40" y="66.20" font-size="7.8" text-anchor="start" font-weight="bold" fill="#222" >−0.5</text>
<text x="298.40" y="82.30" font-size="7.8" text-anchor="start" font-weight="bold" fill="#222" >−1.0</text>
<text x="295.60" y="8.30" font-size="10.5" text-anchor="middle" font-weight="bold" fill="#111" textLength="20.8" lengthAdjust="spacingAndGlyphs" >[a.u.]</text>
<defs><linearGradient id="cb620" x1="0" y1="0" x2="0" y2="1"><stop offset="0" stop-color="#e60000"/><stop offset="0.5" stop-color="#ffffff"/><stop offset="1" stop-color="#0a3cdc"/></linearGradient></defs>
<rect x="620.0" y="14.8" width="3.4" height="65.2" fill="url(#cb620)"/>
<text x="626.60" y="17.90" font-size="7.8" text-anchor="start" font-weight="bold" fill="#222" >1.0</text>
<text x="626.60" y="34.00" font-size="7.8" text-anchor="start" font-weight="bold" fill="#222" >0.5</text>
<text x="626.60" y="50.10" font-size="7.8" text-anchor="start" font-weight="bold" fill="#222" >0.0</text>
<text x="624.80" y="66.20" font-size="7.8" text-anchor="start" font-weight="bold" fill="#222" >−0.5</text>
<text x="624.80" y="82.30" font-size="7.8" text-anchor="start" font-weight="bold" fill="#222" >−1.0</text>
<text x="622.00" y="8.30" font-size="10.5" text-anchor="middle" font-weight="bold" fill="#111" textLength="20.8" lengthAdjust="spacingAndGlyphs" >[a.u.]</text>
<text x="123.1" y="9.5" font-size="10.6" stroke="#000" stroke-width="0.25" text-anchor="start" font-weight="bold" font-family="Liberation Serif, serif">X<tspan font-size="5.5" dy="-4.3" font-weight="normal">c</tspan><tspan dy="4.3"> relevances</tspan></text>
<text x="460.0" y="9.5" font-size="10.6" stroke="#000" stroke-width="0.25" text-anchor="start" font-weight="bold" font-family="Liberation Serif, serif">X<tspan font-size="5.5" dy="-4.3" font-weight="normal">c</tspan><tspan dy="4.3"> relevances</tspan></text>
<text x="3.90" y="47.00" font-size="9" text-anchor="middle" font-weight="bold" fill="#000" transform="rotate(-90 3.90 47.00)" textLength="35.5" lengthAdjust="spacingAndGlyphs" stroke="#000" stroke-width="0.3" dominant-baseline="central">Variables</text>
<text x="13.90" y="47.00" font-size="9" text-anchor="middle" font-weight="bold" fill="#000" transform="rotate(-90 13.90 47.00)" textLength="13.5" lengthAdjust="spacingAndGlyphs" stroke="#000" stroke-width="0.3" dominant-baseline="central">(D)</text>
<text x="333.60" y="47.00" font-size="9" text-anchor="middle" font-weight="bold" fill="#000" transform="rotate(-90 333.60 47.00)" textLength="35.5" lengthAdjust="spacingAndGlyphs" stroke="#000" stroke-width="0.3" dominant-baseline="central">Variables</text>
<text x="343.60" y="47.00" font-size="9" text-anchor="middle" font-weight="bold" fill="#000" transform="rotate(-90 343.60 47.00)" textLength="13.5" lengthAdjust="spacingAndGlyphs" stroke="#000" stroke-width="0.3" dominant-baseline="central">(D)</text>
<rect x="38.4" y="82.6" width="251.20000000000002" height="64.0" fill="none" stroke="#ebebeb" stroke-width="0.8"/>
<line x1="38.4" x2="289.6" y1="85.90" y2="85.90" stroke="#e6e6e6" stroke-width="0.5" stroke-dasharray="1,1"/>
<text x="35.20" y="88.50" font-size="7.5" text-anchor="end" font-weight="normal" fill="#505050" >1</text>
<line x1="38.4" x2="289.6" y1="111.50" y2="111.50" stroke="#e6e6e6" stroke-width="0.5" stroke-dasharray="1,1"/>
<text x="35.20" y="114.10" font-size="7.5" text-anchor="end" font-weight="normal" fill="#505050" >0</text>
<line x1="38.4" x2="289.6" y1="137.10" y2="137.10" stroke="#e6e6e6" stroke-width="0.5" stroke-dasharray="1,1"/>
<text x="35.20" y="139.70" font-size="7.5" text-anchor="end" font-weight="normal" fill="#505050" >−1</text>
<line x1="48.10" x2="48.10" y1="82.6" y2="146.6" stroke="#e6e6e6" stroke-width="0.5" stroke-dasharray="1,1"/>
<line x1="68.26" x2="68.26" y1="82.6" y2="146.6" stroke="#e6e6e6" stroke-width="0.5" stroke-dasharray="1,1"/>
<line x1="88.42" x2="88.42" y1="82.6" y2="146.6" stroke="#e6e6e6" stroke-width="0.5" stroke-dasharray="1,1"/>
<line x1="108.58" x2="108.58" y1="82.6" y2="146.6" stroke="#e6e6e6" stroke-width="0.5" stroke-dasharray="1,1"/>
<line x1="128.74" x2="128.74" y1="82.6" y2="146.6" stroke="#e6e6e6" stroke-width="0.5" stroke-dasharray="1,1"/>
<line x1="148.90" x2="148.90" y1="82.6" y2="146.6" stroke="#e6e6e6" stroke-width="0.5" stroke-dasharray="1,1"/>
<line x1="169.06" x2="169.06" y1="82.6" y2="146.6" stroke="#e6e6e6" stroke-width="0.5" stroke-dasharray="1,1"/>
<line x1="189.22" x2="189.22" y1="82.6" y2="146.6" stroke="#e6e6e6" stroke-width="0.5" stroke-dasharray="1,1"/>
<line x1="209.38" x2="209.38" y1="82.6" y2="146.6" stroke="#e6e6e6" stroke-width="0.5" stroke-dasharray="1,1"/>
<line x1="229.54" x2="229.54" y1="82.6" y2="146.6" stroke="#e6e6e6" stroke-width="0.5" stroke-dasharray="1,1"/>
<line x1="249.70" x2="249.70" y1="82.6" y2="146.6" stroke="#e6e6e6" stroke-width="0.5" stroke-dasharray="1,1"/>
<line x1="269.86" x2="269.86" y1="82.6" y2="146.6" stroke="#e6e6e6" stroke-width="0.5" stroke-dasharray="1,1"/>
<rect x="45.58" y="85.3" width="5.94" height="56.89999999999999" fill="#fde8e8"/>
<rect x="50.62" y="85.3" width="5.94" height="56.89999999999999" fill="#fde8e8"/>
<rect x="55.66" y="85.3" width="5.94" height="56.89999999999999" fill="#fde8e8"/>
<rect x="60.70" y="85.3" width="5.04" height="56.89999999999999" fill="#fef2f2"/>
<rect x="70.78" y="85.3" width="5.94" height="56.89999999999999" fill="#fef5f5"/>
<rect x="75.82" y="85.3" width="5.94" height="56.89999999999999" fill="#fef5f5"/>
<rect x="80.86" y="85.3" width="5.04" height="56.89999999999999" fill="#fbd1d1"/>
<rect x="90.94" y="85.3" width="5.94" height="56.89999999999999" fill="#fef7f7"/>
<rect x="95.98" y="85.3" width="5.94" height="56.89999999999999" fill="#fef0f0"/>
<rect x="101.02" y="85.3" width="5.94" height="56.89999999999999" fill="#fef0f0"/>
<rect x="106.06" y="85.3" width="5.94" height="56.89999999999999" fill="#fef7f7"/>
<rect x="111.10" y="85.3" width="5.94" height="56.89999999999999" fill="#fac7c7"/>
<rect x="116.14" y="85.3" width="5.94" height="56.89999999999999" fill="#fac7c7"/>
<rect x="121.18" y="85.3" width="5.94" height="56.89999999999999" fill="#fbd6d6"/>
<rect x="126.22" y="85.3" width="5.94" height="56.89999999999999" fill="#fcdede"/>
<rect x="131.26" y="85.3" width="5.94" height="56.89999999999999" fill="#fcdede"/>
<rect x="136.30" y="85.3" width="5.94" height="56.89999999999999" fill="#fde8e8"/>
<rect x="141.34" y="85.3" width="5.94" height="56.89999999999999" fill="#f9bfbf"/>
<rect x="146.38" y="85.3" width="5.94" height="56.89999999999999" fill="#f8b8b8"/>
<rect x="151.42" y="85.3" width="5.94" height="56.89999999999999" fill="#f7abab"/>
<rect x="156.46" y="85.3" width="5.94" height="56.89999999999999" fill="#f7b0b0"/>
<rect x="161.50" y="85.3" width="5.94" height="56.89999999999999" fill="#e60000"/>
<rect x="166.54" y="85.3" width="5.94" height="56.89999999999999" fill="#fce0e0"/>
<rect x="171.58" y="85.3" width="5.94" height="56.89999999999999" fill="#fac7c7"/>
<rect x="176.62" y="85.3" width="5.04" height="56.89999999999999" fill="#f7b0b0"/>
<rect x="186.70" y="85.3" width="5.94" height="56.89999999999999" fill="#fbd4d4"/>
<rect x="191.74" y="85.3" width="5.94" height="56.89999999999999" fill="#f8b5b5"/>
<rect x="196.78" y="85.3" width="5.94" height="56.89999999999999" fill="#f49191"/>
<rect x="201.82" y="85.3" width="5.04" height="56.89999999999999" fill="#e60000"/>
<rect x="216.94" y="85.3" width="5.04" height="56.89999999999999" fill="#fbd4d4"/>
<rect x="227.02" y="85.3" width="5.94" height="56.89999999999999" fill="#f8f9fe"/>
<rect x="232.06" y="85.3" width="5.94" height="56.89999999999999" fill="#f0f3fd"/>
<rect x="237.10" y="85.3" width="5.94" height="56.89999999999999" fill="#e9edfc"/>
<rect x="242.14" y="85.3" width="5.94" height="56.89999999999999" fill="#e4eafb"/>
<rect x="247.18" y="85.3" width="5.94" height="56.89999999999999" fill="#dde4fa"/>
<rect x="252.22" y="85.3" width="5.94" height="56.89999999999999" fill="#d3dcf9"/>
<rect x="257.26" y="85.3" width="5.94" height="56.89999999999999" fill="#c7d2f7"/>
<rect x="262.30" y="85.3" width="5.94" height="56.89999999999999" fill="#dde4fa"/>
<rect x="267.34" y="85.3" width="5.94" height="56.89999999999999" fill="#8ea5ef"/>
<rect x="272.38" y="85.3" width="5.94" height="56.89999999999999" fill="#6e8cea"/>
<rect x="277.42" y="85.3" width="5.94" height="56.89999999999999" fill="#1e4cdf"/>
<rect x="282.46" y="85.3" width="5.04" height="56.89999999999999" fill="#1948de"/>
<polygon points="48.10,94.09 53.14,85.13 58.18,108.43 63.22,132.49 63.22,132.49 58.18,129.42 53.14,119.18 48.10,124.30" fill="#808080" fill-opacity="0.42"/>
<polygon points="209.38,126.09 214.42,95.12 219.46,137.10 219.46,137.10 214.42,123.02 209.38,126.09" fill="#808080" fill-opacity="0.42"/>
<polygon points="219.46,137.10 224.50,115.34 229.54,108.43 229.54,108.43 224.50,129.42 219.46,137.10" fill="#808080" fill-opacity="0.42"/>
<polygon points="239.62,106.64 244.66,98.19 249.70,98.70 249.70,98.70 244.66,121.48 239.62,106.64" fill="#808080" fill-opacity="0.42"/>
<polyline points="48.10,111.50 53.14,101.26 58.18,116.11 63.22,132.49" fill="none" stroke="#a0505a" stroke-width="0.7"/>
<polyline points="209.38,126.09 214.42,107.92 219.46,137.10" fill="none" stroke="#a0505a" stroke-width="0.7"/>
<polyline points="219.46,137.10 224.50,122.25 229.54,108.43" fill="none" stroke="#a0505a" stroke-width="0.7"/>
<polyline points="239.62,106.64 244.66,109.96 249.70,98.70" fill="none" stroke="#a0505a" stroke-width="0.7"/>
<polyline points="48.10,111.50 53.14,111.50 58.18,116.11 63.22,132.49 68.26,132.49 73.30,116.88 78.34,113.29 83.38,142.22 88.42,132.49 93.46,129.68 98.50,119.95 103.54,129.68 108.58,128.14 113.62,124.56 118.66,95.88 123.70,113.29 128.74,107.92 133.78,95.88 138.82,107.40 143.86,121.48 148.90,126.09 153.94,108.43 158.98,112.01 164.02,119.95 169.06,132.24 174.10,134.28 179.14,137.10 184.18,137.10 189.22,128.14 194.26,130.96 199.30,129.16 204.34,126.09 209.38,126.09 214.42,113.29 219.46,137.10 224.50,122.25 229.54,108.43 234.58,114.83 239.62,106.64 244.66,109.96 249.70,98.70 254.74,113.29 259.78,102.28 264.82,98.70 269.86,127.63 274.90,111.76 279.94,127.63 284.98,127.63" fill="none" stroke="#222" stroke-width="0.8"/>
<polygon points="48.10,109.55 50.05,111.50 48.10,113.45 46.15,111.50" fill="#fff" stroke="#a8606c" stroke-width="0.75"/>
<polygon points="53.14,109.55 55.09,111.50 53.14,113.45 51.19,111.50" fill="#fff" stroke="#a8606c" stroke-width="0.75"/>
<polygon points="53.14,99.31 55.09,101.26 53.14,103.21 51.19,101.26" fill="#fff" stroke="#a8606c" stroke-width="0.75"/>
<polygon points="58.18,114.16 60.13,116.11 58.18,118.06 56.23,116.11" fill="#fff" stroke="#a8606c" stroke-width="0.75"/>
<circle cx="63.22" cy="132.49" r="1.5" fill="#000"/>
<circle cx="68.26" cy="132.49" r="1.5" fill="#000"/>
<circle cx="73.30" cy="116.88" r="1.5" fill="#000"/>
<circle cx="78.34" cy="113.29" r="1.5" fill="#000"/>
<circle cx="83.38" cy="142.22" r="1.5" fill="#000"/>
<circle cx="88.42" cy="132.49" r="1.5" fill="#000"/>
<circle cx="93.46" cy="129.68" r="1.5" fill="#000"/>
<circle cx="98.50" cy="119.95" r="1.5" fill="#000"/>
<circle cx="103.54" cy="129.68" r="1.5" fill="#000"/>
<circle cx="108.58" cy="128.14" r="1.5" fill="#000"/>
<circle cx="113.62" cy="124.56" r="1.5" fill="#000"/>
<circle cx="118.66" cy="95.88" r="1.5" fill="#000"/>
<circle cx="123.70" cy="113.29" r="1.5" fill="#000"/>
<circle cx="128.74" cy="107.92" r="1.5" fill="#000"/>
<circle cx="133.78" cy="95.88" r="1.5" fill="#000"/>
<circle cx="138.82" cy="107.40" r="1.5" fill="#000"/>
<circle cx="143.86" cy="121.48" r="1.5" fill="#000"/>
<circle cx="148.90" cy="126.09" r="1.5" fill="#000"/>
<circle cx="153.94" cy="108.43" r="1.5" fill="#000"/>
<circle cx="158.98" cy="112.01" r="1.5" fill="#000"/>
<circle cx="164.02" cy="119.95" r="1.5" fill="#000"/>
<circle cx="169.06" cy="132.24" r="1.5" fill="#000"/>
<circle cx="174.10" cy="134.28" r="1.5" fill="#000"/>
<circle cx="179.14" cy="137.10" r="1.5" fill="#000"/>
<circle cx="184.18" cy="137.10" r="1.5" fill="#000"/>
<circle cx="189.22" cy="128.14" r="1.5" fill="#000"/>
<circle cx="194.26" cy="130.96" r="1.5" fill="#000"/>
<circle cx="199.30" cy="129.16" r="1.5" fill="#000"/>
<circle cx="204.34" cy="126.09" r="1.5" fill="#000"/>
<circle cx="209.38" cy="126.09" r="1.5" fill="#000"/>
<polygon points="214.42,111.34 216.37,113.29 214.42,115.24 212.47,113.29" fill="#fff" stroke="#a8606c" stroke-width="0.75"/>
<polygon points="214.42,105.97 216.37,107.92 214.42,109.87 212.47,107.92" fill="#fff" stroke="#a8606c" stroke-width="0.75"/>
<circle cx="219.46" cy="137.10" r="1.5" fill="#000"/>
<polygon points="224.50,120.30 226.45,122.25 224.50,124.20 222.55,122.25" fill="#fff" stroke="#a8606c" stroke-width="0.75"/>
<circle cx="229.54" cy="108.43" r="1.5" fill="#000"/>
<circle cx="234.58" cy="114.83" r="1.5" fill="#000"/>
<circle cx="239.62" cy="106.64" r="1.5" fill="#000"/>
<polygon points="244.66,108.01 246.61,109.96 244.66,111.91 242.71,109.96" fill="#fff" stroke="#a8606c" stroke-width="0.75"/>
<circle cx="249.70" cy="98.70" r="1.5" fill="#000"/>
<circle cx="254.74" cy="113.29" r="1.5" fill="#000"/>
<circle cx="259.78" cy="102.28" r="1.5" fill="#000"/>
<circle cx="264.82" cy="98.70" r="1.5" fill="#000"/>
<circle cx="269.86" cy="127.63" r="1.5" fill="#000"/>
<circle cx="274.90" cy="111.76" r="1.5" fill="#000"/>
<circle cx="279.94" cy="127.63" r="1.5" fill="#000"/>
<circle cx="284.98" cy="127.63" r="1.5" fill="#000"/>
<text x="4.10" y="112.80" font-size="9" text-anchor="middle" font-weight="bold" fill="#000" transform="rotate(-90 4.10 112.80)" textLength="59" lengthAdjust="spacingAndGlyphs" stroke="#000" stroke-width="0.3" dominant-baseline="central">Measurements</text>
<text x="13.90" y="111.80" font-size="9" text-anchor="middle" font-weight="bold" fill="#000" transform="rotate(-90 13.90 111.80)" textLength="29" lengthAdjust="spacingAndGlyphs" stroke="#000" stroke-width="0.3" dominant-baseline="central">(d=17)</text>
<rect x="38.4" y="148.9" width="251.20000000000002" height="64.5" fill="none" stroke="#ebebeb" stroke-width="0.8"/>
<line x1="38.4" x2="289.6" y1="159.90" y2="159.90" stroke="#e6e6e6" stroke-width="0.5" stroke-dasharray="1,1"/>
<text x="35.20" y="162.50" font-size="7.5" text-anchor="end" font-weight="normal" fill="#505050" >0.5</text>
<line x1="38.4" x2="289.6" y1="178.90" y2="178.90" stroke="#e6e6e6" stroke-width="0.5" stroke-dasharray="1,1"/>
<text x="35.20" y="181.50" font-size="7.5" text-anchor="end" font-weight="normal" fill="#505050" >0.0</text>
<line x1="38.4" x2="289.6" y1="197.90" y2="197.90" stroke="#e6e6e6" stroke-width="0.5" stroke-dasharray="1,1"/>
<text x="35.20" y="200.50" font-size="7.5" text-anchor="end" font-weight="normal" fill="#505050" >0.5</text>
<line x1="48.10" x2="48.10" y1="148.9" y2="213.4" stroke="#e6e6e6" stroke-width="0.5" stroke-dasharray="1,1"/>
<line x1="68.26" x2="68.26" y1="148.9" y2="213.4" stroke="#e6e6e6" stroke-width="0.5" stroke-dasharray="1,1"/>
<line x1="88.42" x2="88.42" y1="148.9" y2="213.4" stroke="#e6e6e6" stroke-width="0.5" stroke-dasharray="1,1"/>
<line x1="108.58" x2="108.58" y1="148.9" y2="213.4" stroke="#e6e6e6" stroke-width="0.5" stroke-dasharray="1,1"/>
<line x1="128.74" x2="128.74" y1="148.9" y2="213.4" stroke="#e6e6e6" stroke-width="0.5" stroke-dasharray="1,1"/>
<line x1="148.90" x2="148.90" y1="148.9" y2="213.4" stroke="#e6e6e6" stroke-width="0.5" stroke-dasharray="1,1"/>
<line x1="169.06" x2="169.06" y1="148.9" y2="213.4" stroke="#e6e6e6" stroke-width="0.5" stroke-dasharray="1,1"/>
<line x1="189.22" x2="189.22" y1="148.9" y2="213.4" stroke="#e6e6e6" stroke-width="0.5" stroke-dasharray="1,1"/>
<line x1="209.38" x2="209.38" y1="148.9" y2="213.4" stroke="#e6e6e6" stroke-width="0.5" stroke-dasharray="1,1"/>
<line x1="229.54" x2="229.54" y1="148.9" y2="213.4" stroke="#e6e6e6" stroke-width="0.5" stroke-dasharray="1,1"/>
<line x1="249.70" x2="249.70" y1="148.9" y2="213.4" stroke="#e6e6e6" stroke-width="0.5" stroke-dasharray="1,1"/>
<line x1="269.86" x2="269.86" y1="148.9" y2="213.4" stroke="#e6e6e6" stroke-width="0.5" stroke-dasharray="1,1"/>
<rect x="45.58" y="151.8" width="5.94" height="57.19999999999999" fill="#fce0e0"/>
<rect x="50.62" y="151.8" width="5.94" height="57.19999999999999" fill="#fde8e8"/>
<rect x="55.66" y="151.8" width="5.94" height="57.19999999999999" fill="#fdeded"/>
<rect x="60.70" y="151.8" width="5.94" height="57.19999999999999" fill="#fdebeb"/>
<rect x="65.74" y="151.8" width="5.94" height="57.19999999999999" fill="#fce6e6"/>
<rect x="70.78" y="151.8" width="5.94" height="57.19999999999999" fill="#fbd4d4"/>
<rect x="75.82" y="151.8" width="5.04" height="57.19999999999999" fill="#fbd9d9"/>
<rect x="85.90" y="151.8" width="5.94" height="57.19999999999999" fill="#fbd4d4"/>
<rect x="90.94" y="151.8" width="5.94" height="57.19999999999999" fill="#facccc"/>
<rect x="95.98" y="151.8" width="5.94" height="57.19999999999999" fill="#facccc"/>
<rect x="101.02" y="151.8" width="5.94" height="57.19999999999999" fill="#f8b5b5"/>
<rect x="106.06" y="151.8" width="5.94" height="57.19999999999999" fill="#f7b0b0"/>
<rect x="111.10" y="151.8" width="5.94" height="57.19999999999999" fill="#f6a8a8"/>
<rect x="116.14" y="151.8" width="5.94" height="57.19999999999999" fill="#f6a8a8"/>
<rect x="121.18" y="151.8" width="5.94" height="57.19999999999999" fill="#f8bdbd"/>
<rect x="126.22" y="151.8" width="5.94" height="57.19999999999999" fill="#f8bdbd"/>
<rect x="131.26" y="151.8" width="5.94" height="57.19999999999999" fill="#f8b5b5"/>
<rect x="136.30" y="151.8" width="5.94" height="57.19999999999999" fill="#f6a3a3"/>
<rect x="141.34" y="151.8" width="5.94" height="57.19999999999999" fill="#f6a8a8"/>
<rect x="146.38" y="151.8" width="5.94" height="57.19999999999999" fill="#f59999"/>
<rect x="151.42" y="151.8" width="5.94" height="57.19999999999999" fill="#f27d7d"/>
<rect x="156.46" y="151.8" width="5.04" height="57.19999999999999" fill="#ef5c5c"/>
<rect x="166.54" y="151.8" width="5.94" height="57.19999999999999" fill="#f38787"/>
<rect x="171.58" y="151.8" width="5.94" height="57.19999999999999" fill="#f49494"/>
<rect x="176.62" y="151.8" width="5.94" height="57.19999999999999" fill="#f8b8b8"/>
<rect x="181.66" y="151.8" width="5.94" height="57.19999999999999" fill="#f49494"/>
<rect x="186.70" y="151.8" width="5.94" height="57.19999999999999" fill="#f06b6b"/>
<rect x="191.74" y="151.8" width="5.94" height="57.19999999999999" fill="#e70a0a"/>
<rect x="196.78" y="151.8" width="5.04" height="57.19999999999999" fill="#e70a0a"/>
<rect x="211.90" y="151.8" width="5.04" height="57.19999999999999" fill="#f28080"/>
<rect x="227.02" y="151.8" width="5.94" height="57.19999999999999" fill="#f3f5fd"/>
<rect x="232.06" y="151.8" width="5.94" height="57.19999999999999" fill="#f0f3fd"/>
<rect x="237.10" y="151.8" width="5.94" height="57.19999999999999" fill="#eef1fd"/>
<rect x="242.14" y="151.8" width="5.94" height="57.19999999999999" fill="#e6ecfc"/>
<rect x="247.18" y="151.8" width="5.94" height="57.19999999999999" fill="#dfe6fa"/>
<rect x="252.22" y="151.8" width="5.94" height="57.19999999999999" fill="#ced8f8"/>
<rect x="257.26" y="151.8" width="5.94" height="57.19999999999999" fill="#b8c6f5"/>
<rect x="262.30" y="151.8" width="5.94" height="57.19999999999999" fill="#a4b7f2"/>
<rect x="267.34" y="151.8" width="5.94" height="57.19999999999999" fill="#acbdf3"/>
<rect x="272.38" y="151.8" width="5.94" height="57.19999999999999" fill="#5b7ce8"/>
<rect x="277.42" y="151.8" width="5.94" height="57.19999999999999" fill="#0f40dd"/>
<rect x="282.46" y="151.8" width="5.04" height="57.19999999999999" fill="#1948de"/>
<polygon points="209.38,187.26 214.42,153.06 219.46,179.28 219.46,179.28 214.42,199.42 209.38,187.26" fill="#808080" fill-opacity="0.42"/>
<polygon points="224.50,187.26 229.54,151.92 234.58,157.24 239.62,153.06 244.66,156.48 249.70,151.16 254.74,165.22 259.78,159.52 264.82,158.76 269.86,158.38 274.90,152.68 279.94,159.52 284.98,169.02 284.98,195.24 279.94,197.14 274.90,191.06 269.86,196.00 264.82,199.42 259.78,203.22 254.74,204.36 249.70,200.18 244.66,198.28 239.62,195.24 234.58,194.48 229.54,192.96 224.50,187.26" fill="#808080" fill-opacity="0.42"/>
<polyline points="209.38,187.26 214.42,177.38 219.46,179.28" fill="none" stroke="#a0505a" stroke-width="0.7"/>
<polyline points="224.50,187.26 229.54,174.72 234.58,179.66 239.62,174.72 244.66,177.38 249.70,175.48 254.74,185.74 259.78,180.42 264.82,180.42 269.86,181.56 274.90,175.48 279.94,183.46 284.98,191.06" fill="none" stroke="#a0505a" stroke-width="0.7"/>
<polyline points="48.10,199.80 53.14,191.44 58.18,179.28 63.22,208.54 68.26,205.88 73.30,165.60 78.34,166.36 83.38,183.84 88.42,180.42 93.46,171.68 98.50,160.66 103.54,185.36 108.58,186.12 113.62,169.78 118.66,190.30 123.70,182.32 128.74,187.64 133.78,181.94 138.82,175.10 143.86,171.68 148.90,173.58 153.94,176.24 158.98,167.50 164.02,180.04 169.06,194.10 174.10,192.58 179.14,183.08 184.18,170.16 189.22,190.68 194.26,199.80 199.30,184.60 204.34,174.72 209.38,187.26 214.42,188.78 219.46,179.28 224.50,187.26 229.54,185.74 234.58,186.12 239.62,184.60 244.66,184.60 249.70,181.56 254.74,185.74 259.78,191.06 264.82,185.36 269.86,181.56 274.90,185.36 279.94,187.64 284.98,193.72" fill="none" stroke="#222" stroke-width="0.8"/>
<circle cx="48.10" cy="199.80" r="1.5" fill="#000"/>
<circle cx="53.14" cy="191.44" r="1.5" fill="#000"/>
<circle cx="58.18" cy="179.28" r="1.5" fill="#000"/>
<circle cx="63.22" cy="208.54" r="1.5" fill="#000"/>
<circle cx="68.26" cy="205.88" r="1.5" fill="#000"/>
<circle cx="73.30" cy="165.60" r="1.5" fill="#000"/>
<circle cx="78.34" cy="166.36" r="1.5" fill="#000"/>
<circle cx="83.38" cy="183.84" r="1.5" fill="#000"/>
<circle cx="88.42" cy="180.42" r="1.5" fill="#000"/>
<circle cx="93.46" cy="171.68" r="1.5" fill="#000"/>
<circle cx="98.50" cy="160.66" r="1.5" fill="#000"/>
<circle cx="103.54" cy="185.36" r="1.5" fill="#000"/>
<circle cx="108.58" cy="186.12" r="1.5" fill="#000"/>
<circle cx="113.62" cy="169.78" r="1.5" fill="#000"/>
<circle cx="118.66" cy="190.30" r="1.5" fill="#000"/>
<circle cx="123.70" cy="182.32" r="1.5" fill="#000"/>
<circle cx="128.74" cy="187.64" r="1.5" fill="#000"/>
<circle cx="133.78" cy="181.94" r="1.5" fill="#000"/>
<circle cx="138.82" cy="175.10" r="1.5" fill="#000"/>
<circle cx="143.86" cy="171.68" r="1.5" fill="#000"/>
<circle cx="148.90" cy="173.58" r="1.5" fill="#000"/>
<circle cx="153.94" cy="176.24" r="1.5" fill="#000"/>
<circle cx="158.98" cy="167.50" r="1.5" fill="#000"/>
<circle cx="164.02" cy="180.04" r="1.5" fill="#000"/>
<circle cx="169.06" cy="194.10" r="1.5" fill="#000"/>
<circle cx="174.10" cy="192.58" r="1.5" fill="#000"/>
<circle cx="179.14" cy="183.08" r="1.5" fill="#000"/>
<circle cx="184.18" cy="170.16" r="1.5" fill="#000"/>
<circle cx="189.22" cy="190.68" r="1.5" fill="#000"/>
<circle cx="194.26" cy="199.80" r="1.5" fill="#000"/>
<circle cx="199.30" cy="184.60" r="1.5" fill="#000"/>
<circle cx="204.34" cy="174.72" r="1.5" fill="#000"/>
<circle cx="209.38" cy="187.26" r="1.5" fill="#000"/>
<polygon points="214.42,186.83 216.37,188.78 214.42,190.73 212.47,188.78" fill="#fff" stroke="#a8606c" stroke-width="0.75"/>
<polygon points="214.42,175.43 216.37,177.38 214.42,179.33 212.47,177.38" fill="#fff" stroke="#a8606c" stroke-width="0.75"/>
<circle cx="219.46" cy="179.28" r="1.5" fill="#000"/>
<circle cx="224.50" cy="187.26" r="1.5" fill="#000"/>
<polygon points="229.54,183.79 231.49,185.74 229.54,187.69 227.59,185.74" fill="#fff" stroke="#a8606c" stroke-width="0.75"/>
<polygon points="229.54,172.77 231.49,174.72 229.54,176.67 227.59,174.72" fill="#fff" stroke="#a8606c" stroke-width="0.75"/>
<polygon points="234.58,184.17 236.53,186.12 234.58,188.07 232.63,186.12" fill="#fff" stroke="#a8606c" stroke-width="0.75"/>
<polygon points="234.58,177.71 236.53,179.66 234.58,181.61 232.63,179.66" fill="#fff" stroke="#a8606c" stroke-width="0.75"/>
<polygon points="239.62,182.65 241.57,184.60 239.62,186.55 237.67,184.60" fill="#fff" stroke="#a8606c" stroke-width="0.75"/>
<polygon points="239.62,172.77 241.57,174.72 239.62,176.67 237.67,174.72" fill="#fff" stroke="#a8606c" stroke-width="0.75"/>
<polygon points="244.66,182.65 246.61,184.60 244.66,186.55 242.71,184.60" fill="#fff" stroke="#a8606c" stroke-width="0.75"/>
<polygon points="244.66,175.43 246.61,177.38 244.66,179.33 242.71,177.38" fill="#fff" stroke="#a8606c" stroke-width="0.75"/>
<polygon points="249.70,179.61 251.65,181.56 249.70,183.51 247.75,181.56" fill="#fff" stroke="#a8606c" stroke-width="0.75"/>
<polygon points="249.70,173.53 251.65,175.48 249.70,177.43 247.75,175.48" fill="#fff" stroke="#a8606c" stroke-width="0.75"/>
<polygon points="254.74,183.79 256.69,185.74 254.74,187.69 252.79,185.74" fill="#fff" stroke="#a8606c" stroke-width="0.75"/>
<polygon points="259.78,189.11 261.73,191.06 259.78,193.01 257.83,191.06" fill="#fff" stroke="#a8606c" stroke-width="0.75"/>
<polygon points="259.78,178.47 261.73,180.42 259.78,182.37 257.83,180.42" fill="#fff" stroke="#a8606c" stroke-width="0.75"/>
<polygon points="264.82,183.41 266.77,185.36 264.82,187.31 262.87,185.36" fill="#fff" stroke="#a8606c" stroke-width="0.75"/>
<polygon points="264.82,178.47 266.77,180.42 264.82,182.37 262.87,180.42" fill="#fff" stroke="#a8606c" stroke-width="0.75"/>
<polygon points="269.86,179.61 271.81,181.56 269.86,183.51 267.91,181.56" fill="#fff" stroke="#a8606c" stroke-width="0.75"/>
<polygon points="274.90,183.41 276.85,185.36 274.90,187.31 272.95,185.36" fill="#fff" stroke="#a8606c" stroke-width="0.75"/>
<polygon points="274.90,173.53 276.85,175.48 274.90,177.43 272.95,175.48" fill="#fff" stroke="#a8606c" stroke-width="0.75"/>
<polygon points="279.94,185.69 281.89,187.64 279.94,189.59 277.99,187.64" fill="#fff" stroke="#a8606c" stroke-width="0.75"/>
<polygon points="279.94,181.51 281.89,183.46 279.94,185.41 277.99,183.46" fill="#fff" stroke="#a8606c" stroke-width="0.75"/>
<polygon points="284.98,191.77 286.93,193.72 284.98,195.67 283.03,193.72" fill="#fff" stroke="#a8606c" stroke-width="0.75"/>
<polygon points="284.98,189.11 286.93,191.06 284.98,193.01 283.03,191.06" fill="#fff" stroke="#a8606c" stroke-width="0.75"/>
<text x="4.10" y="179.35" font-size="9" text-anchor="middle" font-weight="bold" fill="#000" transform="rotate(-90 4.10 179.35)" textLength="59" lengthAdjust="spacingAndGlyphs" stroke="#000" stroke-width="0.3" dominant-baseline="central">Measurements</text>
<text x="13.90" y="178.35" font-size="9" text-anchor="middle" font-weight="bold" fill="#000" transform="rotate(-90 13.90 178.35)" textLength="29" lengthAdjust="spacingAndGlyphs" stroke="#000" stroke-width="0.3" dominant-baseline="central">(d=21)</text>
<rect x="38.4" y="215.3" width="251.20000000000002" height="63.80000000000001" fill="none" stroke="#ebebeb" stroke-width="0.8"/>
<line x1="38.4" x2="289.6" y1="233.60" y2="233.60" stroke="#e6e6e6" stroke-width="0.5" stroke-dasharray="1,1"/>
<text x="35.20" y="236.20" font-size="7.5" text-anchor="end" font-weight="normal" fill="#505050" >0.5</text>
<line x1="38.4" x2="289.6" y1="252.60" y2="252.60" stroke="#e6e6e6" stroke-width="0.5" stroke-dasharray="1,1"/>
<text x="35.20" y="255.20" font-size="7.5" text-anchor="end" font-weight="normal" fill="#505050" >0.0</text>
<line x1="38.4" x2="289.6" y1="271.60" y2="271.60" stroke="#e6e6e6" stroke-width="0.5" stroke-dasharray="1,1"/>
<text x="35.20" y="274.20" font-size="7.5" text-anchor="end" font-weight="normal" fill="#505050" >−0.5</text>
<line x1="48.10" x2="48.10" y1="215.3" y2="279.1" stroke="#e6e6e6" stroke-width="0.5" stroke-dasharray="1,1"/>
<line x1="68.26" x2="68.26" y1="215.3" y2="279.1" stroke="#e6e6e6" stroke-width="0.5" stroke-dasharray="1,1"/>
<line x1="88.42" x2="88.42" y1="215.3" y2="279.1" stroke="#e6e6e6" stroke-width="0.5" stroke-dasharray="1,1"/>
<line x1="108.58" x2="108.58" y1="215.3" y2="279.1" stroke="#e6e6e6" stroke-width="0.5" stroke-dasharray="1,1"/>
<line x1="128.74" x2="128.74" y1="215.3" y2="279.1" stroke="#e6e6e6" stroke-width="0.5" stroke-dasharray="1,1"/>
<line x1="148.90" x2="148.90" y1="215.3" y2="279.1" stroke="#e6e6e6" stroke-width="0.5" stroke-dasharray="1,1"/>
<line x1="169.06" x2="169.06" y1="215.3" y2="279.1" stroke="#e6e6e6" stroke-width="0.5" stroke-dasharray="1,1"/>
<line x1="189.22" x2="189.22" y1="215.3" y2="279.1" stroke="#e6e6e6" stroke-width="0.5" stroke-dasharray="1,1"/>
<line x1="209.38" x2="209.38" y1="215.3" y2="279.1" stroke="#e6e6e6" stroke-width="0.5" stroke-dasharray="1,1"/>
<line x1="229.54" x2="229.54" y1="215.3" y2="279.1" stroke="#e6e6e6" stroke-width="0.5" stroke-dasharray="1,1"/>
<line x1="249.70" x2="249.70" y1="215.3" y2="279.1" stroke="#e6e6e6" stroke-width="0.5" stroke-dasharray="1,1"/>
<line x1="269.86" x2="269.86" y1="215.3" y2="279.1" stroke="#e6e6e6" stroke-width="0.5" stroke-dasharray="1,1"/>
<rect x="156.46" y="218" width="5.94" height="58" fill="#f8f9fe"/>
<rect x="161.50" y="218" width="5.04" height="58" fill="#f8f9fe"/>
<rect x="201.82" y="218" width="5.94" height="58" fill="#eef1fd"/>
<rect x="206.86" y="218" width="5.94" height="58" fill="#f5f7fe"/>
<rect x="211.90" y="218" width="5.94" height="58" fill="#eef1fd"/>
<rect x="216.94" y="218" width="5.94" height="58" fill="#eef1fd"/>
<rect x="221.98" y="218" width="5.04" height="58" fill="#eef1fd"/>
<rect x="232.06" y="218" width="5.94" height="58" fill="#f3f5fd"/>
<rect x="237.10" y="218" width="5.94" height="58" fill="#f5f7fe"/>
<rect x="242.14" y="218" width="5.94" height="58" fill="#fef5f5"/>
<rect x="247.18" y="218" width="5.94" height="58" fill="#f28080"/>
<rect x="252.22" y="218" width="5.94" height="58" fill="#e60000"/>
<rect x="257.26" y="218" width="5.94" height="58" fill="#f0f3fd"/>
<rect x="262.30" y="218" width="5.94" height="58" fill="#eef1fd"/>
<rect x="267.34" y="218" width="5.94" height="58" fill="#f0f3fd"/>
<rect x="272.38" y="218" width="5.94" height="58" fill="#aebff3"/>
<rect x="277.42" y="218" width="5.94" height="58" fill="#0f40dd"/>
<rect x="282.46" y="218" width="5.04" height="58" fill="#6c8aea"/>
<polygon points="48.10,237.02 53.14,218.40 58.18,240.06 63.22,234.36 68.26,270.46 68.26,270.46 63.22,271.60 58.18,272.36 53.14,276.54 48.10,272.36" fill="#808080" fill-opacity="0.42"/>
<polygon points="68.26,270.46 73.30,221.44 78.34,234.74 83.38,255.26 83.38,255.26 78.34,265.14 73.30,274.26 68.26,270.46" fill="#808080" fill-opacity="0.42"/>
<polygon points="83.38,255.26 88.42,253.74 93.46,251.46 98.50,247.28 103.54,245.38 103.54,245.38 98.50,260.96 93.46,273.12 88.42,274.64 83.38,255.26" fill="#808080" fill-opacity="0.42"/>
<polygon points="108.58,268.18 113.62,243.10 118.66,247.28 118.66,247.28 113.62,274.64 108.58,268.18" fill="#808080" fill-opacity="0.42"/>
<polygon points="133.78,273.50 138.82,233.98 143.86,258.30 143.86,258.30 138.82,271.60 133.78,273.50" fill="#808080" fill-opacity="0.42"/>
<polygon points="143.86,258.30 148.90,245.00 153.94,255.26 153.94,255.26 148.90,271.60 143.86,258.30" fill="#808080" fill-opacity="0.42"/>
<polygon points="184.18,270.84 189.22,249.94 194.26,265.52 194.26,265.52 189.22,272.36 184.18,270.84" fill="#808080" fill-opacity="0.42"/>
<polygon points="209.38,272.74 214.42,232.84 219.46,254.88 224.50,243.48 229.54,229.80 234.58,241.20 239.62,230.18 239.62,230.18 234.58,265.14 229.54,267.42 224.50,272.74 219.46,272.74 214.42,271.60 209.38,272.74" fill="#808080" fill-opacity="0.42"/>
<polygon points="239.62,230.18 244.66,233.60 249.70,227.52 254.74,235.12 254.74,235.12 249.70,275.40 244.66,273.50 239.62,230.18" fill="#808080" fill-opacity="0.42"/>
<polygon points="254.74,235.12 259.78,239.30 264.82,263.62 264.82,263.62 259.78,262.10 254.74,235.12" fill="#808080" fill-opacity="0.42"/>
<polygon points="264.82,263.62 269.86,242.34 274.90,229.80 279.94,247.66 284.98,255.26 284.98,255.26 279.94,266.28 274.90,272.74 269.86,268.56 264.82,263.62" fill="#808080" fill-opacity="0.42"/>
<polyline points="48.10,243.86 53.14,246.90 58.18,253.74 63.22,252.98 68.26,270.46" fill="none" stroke="#a0505a" stroke-width="0.7"/>
<polyline points="68.26,270.46 73.30,247.28 78.34,252.98 83.38,255.26" fill="none" stroke="#a0505a" stroke-width="0.7"/>
<polyline points="83.38,255.26 88.42,264.00 93.46,262.10 98.50,258.30 103.54,245.38" fill="none" stroke="#a0505a" stroke-width="0.7"/>
<polyline points="108.58,268.18 113.62,253.74 118.66,247.28" fill="none" stroke="#a0505a" stroke-width="0.7"/>
<polyline points="133.78,273.50 138.82,252.60 143.86,258.30" fill="none" stroke="#a0505a" stroke-width="0.7"/>
<polyline points="143.86,258.30 148.90,258.30 153.94,255.26" fill="none" stroke="#a0505a" stroke-width="0.7"/>
<polyline points="184.18,270.84 189.22,260.96 194.26,265.52" fill="none" stroke="#a0505a" stroke-width="0.7"/>
<polyline points="209.38,272.74 214.42,252.60 219.46,260.96 224.50,258.30 229.54,251.08 234.58,252.98 239.62,230.18" fill="none" stroke="#a0505a" stroke-width="0.7"/>
<polyline points="239.62,230.18 244.66,247.28 249.70,238.54 254.74,235.12" fill="none" stroke="#a0505a" stroke-width="0.7"/>
<polyline points="254.74,235.12 259.78,245.38 264.82,263.62" fill="none" stroke="#a0505a" stroke-width="0.7"/>
<polyline points="264.82,263.62 269.86,255.64 274.90,251.08 279.94,252.98 284.98,255.26" fill="none" stroke="#a0505a" stroke-width="0.7"/>
<polyline points="48.10,255.26 53.14,251.46 58.18,256.78 63.22,262.86 68.26,270.46 73.30,273.12 78.34,267.80 83.38,255.26 88.42,268.18 93.46,262.10 98.50,258.30 103.54,245.38 108.58,268.18 113.62,258.30 118.66,247.28 123.70,257.92 128.74,265.90 133.78,273.50 138.82,268.94 143.86,258.30 148.90,264.76 153.94,255.26 158.98,268.94 164.02,263.62 169.06,271.98 174.10,268.56 179.14,270.46 184.18,270.84 189.22,270.08 194.26,265.52 199.30,273.50 204.34,273.50 209.38,272.74 214.42,266.28 219.46,265.14 224.50,263.24 229.54,254.12 234.58,252.98 239.62,230.18 244.66,253.74 249.70,249.94 254.74,235.12 259.78,255.26 264.82,263.62 269.86,260.20 274.90,254.88 279.94,258.30 284.98,255.26" fill="none" stroke="#222" stroke-width="0.8"/>
<polygon points="48.10,253.31 50.05,255.26 48.10,257.21 46.15,255.26" fill="#fff" stroke="#a8606c" stroke-width="0.75"/>
<polygon points="48.10,241.91 50.05,243.86 48.10,245.81 46.15,243.86" fill="#fff" stroke="#a8606c" stroke-width="0.75"/>
<polygon points="53.14,249.51 55.09,251.46 53.14,253.41 51.19,251.46" fill="#fff" stroke="#a8606c" stroke-width="0.75"/>
<polygon points="53.14,244.95 55.09,246.90 53.14,248.85 51.19,246.90" fill="#fff" stroke="#a8606c" stroke-width="0.75"/>
<polygon points="58.18,254.83 60.13,256.78 58.18,258.73 56.23,256.78" fill="#fff" stroke="#a8606c" stroke-width="0.75"/>
<polygon points="58.18,251.79 60.13,253.74 58.18,255.69 56.23,253.74" fill="#fff" stroke="#a8606c" stroke-width="0.75"/>
<polygon points="63.22,260.91 65.17,262.86 63.22,264.81 61.27,262.86" fill="#fff" stroke="#a8606c" stroke-width="0.75"/>
<polygon points="63.22,251.03 65.17,252.98 63.22,254.93 61.27,252.98" fill="#fff" stroke="#a8606c" stroke-width="0.75"/>
<circle cx="68.26" cy="270.46" r="1.5" fill="#000"/>
<polygon points="73.30,271.17 75.25,273.12 73.30,275.07 71.35,273.12" fill="#fff" stroke="#a8606c" stroke-width="0.75"/>
<polygon points="73.30,245.33 75.25,247.28 73.30,249.23 71.35,247.28" fill="#fff" stroke="#a8606c" stroke-width="0.75"/>
<polygon points="78.34,265.85 80.29,267.80 78.34,269.75 76.39,267.80" fill="#fff" stroke="#a8606c" stroke-width="0.75"/>
<polygon points="78.34,251.03 80.29,252.98 78.34,254.93 76.39,252.98" fill="#fff" stroke="#a8606c" stroke-width="0.75"/>
<circle cx="83.38" cy="255.26" r="1.5" fill="#000"/>
<polygon points="88.42,266.23 90.37,268.18 88.42,270.13 86.47,268.18" fill="#fff" stroke="#a8606c" stroke-width="0.75"/>
<polygon points="88.42,262.05 90.37,264.00 88.42,265.95 86.47,264.00" fill="#fff" stroke="#a8606c" stroke-width="0.75"/>
<polygon points="93.46,260.15 95.41,262.10 93.46,264.05 91.51,262.10" fill="#fff" stroke="#a8606c" stroke-width="0.75"/>
<polygon points="98.50,256.35 100.45,258.30 98.50,260.25 96.55,258.30" fill="#fff" stroke="#a8606c" stroke-width="0.75"/>
<circle cx="103.54" cy="245.38" r="1.5" fill="#000"/>
<circle cx="108.58" cy="268.18" r="1.5" fill="#000"/>
<polygon points="113.62,256.35 115.57,258.30 113.62,260.25 111.67,258.30" fill="#fff" stroke="#a8606c" stroke-width="0.75"/>
<polygon points="113.62,251.79 115.57,253.74 113.62,255.69 111.67,253.74" fill="#fff" stroke="#a8606c" stroke-width="0.75"/>
<circle cx="118.66" cy="247.28" r="1.5" fill="#000"/>
<circle cx="123.70" cy="257.92" r="1.5" fill="#000"/>
<circle cx="128.74" cy="265.90" r="1.5" fill="#000"/>
<circle cx="133.78" cy="273.50" r="1.5" fill="#000"/>
<polygon points="138.82,266.99 140.77,268.94 138.82,270.89 136.87,268.94" fill="#fff" stroke="#a8606c" stroke-width="0.75"/>
<polygon points="138.82,250.65 140.77,252.60 138.82,254.55 136.87,252.60" fill="#fff" stroke="#a8606c" stroke-width="0.75"/>
<circle cx="143.86" cy="258.30" r="1.5" fill="#000"/>
<polygon points="148.90,262.81 150.85,264.76 148.90,266.71 146.95,264.76" fill="#fff" stroke="#a8606c" stroke-width="0.75"/>
<polygon points="148.90,256.35 150.85,258.30 148.90,260.25 146.95,258.30" fill="#fff" stroke="#a8606c" stroke-width="0.75"/>
<circle cx="153.94" cy="255.26" r="1.5" fill="#000"/>
<circle cx="158.98" cy="268.94" r="1.5" fill="#000"/>
<circle cx="164.02" cy="263.62" r="1.5" fill="#000"/>
<circle cx="169.06" cy="271.98" r="1.5" fill="#000"/>
<circle cx="174.10" cy="268.56" r="1.5" fill="#000"/>
<circle cx="179.14" cy="270.46" r="1.5" fill="#000"/>
<circle cx="184.18" cy="270.84" r="1.5" fill="#000"/>
<polygon points="189.22,268.13 191.17,270.08 189.22,272.03 187.27,270.08" fill="#fff" stroke="#a8606c" stroke-width="0.75"/>
<polygon points="189.22,259.01 191.17,260.96 189.22,262.91 187.27,260.96" fill="#fff" stroke="#a8606c" stroke-width="0.75"/>
<circle cx="194.26" cy="265.52" r="1.5" fill="#000"/>
<circle cx="199.30" cy="273.50" r="1.5" fill="#000"/>
<circle cx="204.34" cy="273.50" r="1.5" fill="#000"/>
<circle cx="209.38" cy="272.74" r="1.5" fill="#000"/>
<polygon points="214.42,264.33 216.37,266.28 214.42,268.23 212.47,266.28" fill="#fff" stroke="#a8606c" stroke-width="0.75"/>
<polygon points="214.42,250.65 216.37,252.60 214.42,254.55 212.47,252.60" fill="#fff" stroke="#a8606c" stroke-width="0.75"/>
<polygon points="219.46,263.19 221.41,265.14 219.46,267.09 217.51,265.14" fill="#fff" stroke="#a8606c" stroke-width="0.75"/>
<polygon points="219.46,259.01 221.41,260.96 219.46,262.91 217.51,260.96" fill="#fff" stroke="#a8606c" stroke-width="0.75"/>
<polygon points="224.50,261.29 226.45,263.24 224.50,265.19 222.55,263.24" fill="#fff" stroke="#a8606c" stroke-width="0.75"/>
<polygon points="224.50,256.35 226.45,258.30 224.50,260.25 222.55,258.30" fill="#fff" stroke="#a8606c" stroke-width="0.75"/>
<polygon points="229.54,252.17 231.49,254.12 229.54,256.07 227.59,254.12" fill="#fff" stroke="#a8606c" stroke-width="0.75"/>
<polygon points="229.54,249.13 231.49,251.08 229.54,253.03 227.59,251.08" fill="#fff" stroke="#a8606c" stroke-width="0.75"/>
<polygon points="234.58,251.03 236.53,252.98 234.58,254.93 232.63,252.98" fill="#fff" stroke="#a8606c" stroke-width="0.75"/>
<circle cx="239.62" cy="230.18" r="1.5" fill="#000"/>
<polygon points="244.66,251.79 246.61,253.74 244.66,255.69 242.71,253.74" fill="#fff" stroke="#a8606c" stroke-width="0.75"/>
<polygon points="244.66,245.33 246.61,247.28 244.66,249.23 242.71,247.28" fill="#fff" stroke="#a8606c" stroke-width="0.75"/>
<polygon points="249.70,247.99 251.65,249.94 249.70,251.89 247.75,249.94" fill="#fff" stroke="#a8606c" stroke-width="0.75"/>
<polygon points="249.70,236.59 251.65,238.54 249.70,240.49 247.75,238.54" fill="#fff" stroke="#a8606c" stroke-width="0.75"/>
<circle cx="254.74" cy="235.12" r="1.5" fill="#000"/>
<polygon points="259.78,253.31 261.73,255.26 259.78,257.21 257.83,255.26" fill="#fff" stroke="#a8606c" stroke-width="0.75"/>
<polygon points="259.78,243.43 261.73,245.38 259.78,247.33 257.83,245.38" fill="#fff" stroke="#a8606c" stroke-width="0.75"/>
<circle cx="264.82" cy="263.62" r="1.5" fill="#000"/>
<polygon points="269.86,258.25 271.81,260.20 269.86,262.15 267.91,260.20" fill="#fff" stroke="#a8606c" stroke-width="0.75"/>
<polygon points="269.86,253.69 271.81,255.64 269.86,257.59 267.91,255.64" fill="#fff" stroke="#a8606c" stroke-width="0.75"/>
<polygon points="274.90,252.93 276.85,254.88 274.90,256.83 272.95,254.88" fill="#fff" stroke="#a8606c" stroke-width="0.75"/>
<polygon points="274.90,249.13 276.85,251.08 274.90,253.03 272.95,251.08" fill="#fff" stroke="#a8606c" stroke-width="0.75"/>
<polygon points="279.94,256.35 281.89,258.30 279.94,260.25 277.99,258.30" fill="#fff" stroke="#a8606c" stroke-width="0.75"/>
<polygon points="279.94,251.03 281.89,252.98 279.94,254.93 277.99,252.98" fill="#fff" stroke="#a8606c" stroke-width="0.75"/>
<circle cx="284.98" cy="255.26" r="1.5" fill="#000"/>
<text x="4.10" y="245.40" font-size="9" text-anchor="middle" font-weight="bold" fill="#000" transform="rotate(-90 4.10 245.40)" textLength="59" lengthAdjust="spacingAndGlyphs" stroke="#000" stroke-width="0.3" dominant-baseline="central">Measurements</text>
<text x="13.90" y="244.40" font-size="9" text-anchor="middle" font-weight="bold" fill="#000" transform="rotate(-90 13.90 244.40)" textLength="29" lengthAdjust="spacingAndGlyphs" stroke="#000" stroke-width="0.3" dominant-baseline="central">(d=32)</text>
<rect x="363.4" y="83.7" width="251.20000000000005" height="63.8" fill="none" stroke="#ebebeb" stroke-width="0.8"/>
<line x1="363.4" x2="614.6" y1="98.10" y2="98.10" stroke="#e6e6e6" stroke-width="0.5" stroke-dasharray="1,1"/>
<text x="361.20" y="100.70" font-size="7.5" text-anchor="end" font-weight="normal" fill="#505050" >0.5</text>
<line x1="363.4" x2="614.6" y1="115.60" y2="115.60" stroke="#e6e6e6" stroke-width="0.5" stroke-dasharray="1,1"/>
<text x="361.20" y="118.20" font-size="7.5" text-anchor="end" font-weight="normal" fill="#505050" >0.0</text>
<line x1="363.4" x2="614.6" y1="133.10" y2="133.10" stroke="#e6e6e6" stroke-width="0.5" stroke-dasharray="1,1"/>
<text x="361.20" y="135.70" font-size="7.5" text-anchor="end" font-weight="normal" fill="#505050" >0.5</text>
<line x1="383.10" x2="383.10" y1="83.7" y2="147.5" stroke="#e6e6e6" stroke-width="0.5" stroke-dasharray="1,1"/>
<line x1="421.83" x2="421.83" y1="83.7" y2="147.5" stroke="#e6e6e6" stroke-width="0.5" stroke-dasharray="1,1"/>
<line x1="460.56" x2="460.56" y1="83.7" y2="147.5" stroke="#e6e6e6" stroke-width="0.5" stroke-dasharray="1,1"/>
<line x1="499.30" x2="499.30" y1="83.7" y2="147.5" stroke="#e6e6e6" stroke-width="0.5" stroke-dasharray="1,1"/>
<line x1="538.03" x2="538.03" y1="83.7" y2="147.5" stroke="#e6e6e6" stroke-width="0.5" stroke-dasharray="1,1"/>
<line x1="576.76" x2="576.76" y1="83.7" y2="147.5" stroke="#e6e6e6" stroke-width="0.5" stroke-dasharray="1,1"/>
<rect x="455.72" y="86.4" width="9.68" height="58.19999999999999" fill="#fafbfe"/>
<rect x="475.09" y="86.4" width="9.68" height="58.19999999999999" fill="#f5f7fe"/>
<rect x="513.82" y="86.4" width="10.58" height="58.19999999999999" fill="#fef0f0"/>
<rect x="523.50" y="86.4" width="10.58" height="58.19999999999999" fill="#f8f9fe"/>
<rect x="533.19" y="86.4" width="10.58" height="58.19999999999999" fill="#fbd1d1"/>
<rect x="542.87" y="86.4" width="10.58" height="58.19999999999999" fill="#fce6e6"/>
<rect x="552.55" y="86.4" width="10.58" height="58.19999999999999" fill="#f0f3fd"/>
<rect x="562.24" y="86.4" width="10.58" height="58.19999999999999" fill="#eef1fd"/>
<rect x="571.92" y="86.4" width="10.58" height="58.19999999999999" fill="#6786e9"/>
<rect x="581.60" y="86.4" width="10.58" height="58.19999999999999" fill="#0a3cdc"/>
<rect x="591.28" y="86.4" width="10.58" height="58.19999999999999" fill="#eef1fd"/>
<rect x="600.97" y="86.4" width="9.68" height="58.19999999999999" fill="#e60000"/>
<polygon points="383.10,90.40 392.78,108.95 402.47,101.95 412.15,90.40 421.83,90.40 431.52,117.00 431.52,117.00 421.83,140.10 412.15,140.10 402.47,132.05 392.78,122.60 383.10,140.10" fill="#808080" fill-opacity="0.42"/>
<polygon points="508.98,128.55 518.66,97.75 528.35,97.75 538.03,101.95 547.71,96.70 557.39,91.45 567.08,86.55 576.76,97.75 586.44,87.60 596.13,88.30 605.81,118.40 605.81,118.40 596.13,134.15 586.44,139.40 576.76,131.00 567.08,144.65 557.39,137.30 547.71,134.15 538.03,130.30 528.35,132.05 518.66,132.05 508.98,128.55" fill="#808080" fill-opacity="0.42"/>
<polyline points="383.10,115.60 392.78,115.60 402.47,115.60 412.15,115.60 421.83,115.60 431.52,117.00" fill="none" stroke="#a0505a" stroke-width="0.7"/>
<polyline points="508.98,128.55 518.66,115.60 528.35,115.60 538.03,115.60 547.71,115.60 557.39,115.60 567.08,115.60 576.76,115.60 586.44,115.60 596.13,115.60 605.81,118.40" fill="none" stroke="#a0505a" stroke-width="0.7"/>
<polyline points="383.10,115.60 392.78,119.45 402.47,115.60 412.15,117.70 421.83,115.60 431.52,117.00 441.20,122.95 450.88,110.35 460.56,122.60 470.25,124.70 479.93,124.35 489.61,107.20 499.30,129.60 508.98,128.55 518.66,120.15 528.35,115.60 538.03,123.30 547.71,115.60 557.39,114.55 567.08,115.60 576.76,113.15 586.44,100.55 596.13,100.20 605.81,118.40" fill="none" stroke="#222" stroke-width="0.8"/>
<polygon points="383.10,113.65 385.05,115.60 383.10,117.55 381.15,115.60" fill="#fff" stroke="#a8606c" stroke-width="0.75"/>
<polygon points="392.78,117.50 394.73,119.45 392.78,121.40 390.83,119.45" fill="#fff" stroke="#a8606c" stroke-width="0.75"/>
<polygon points="392.78,113.65 394.73,115.60 392.78,117.55 390.83,115.60" fill="#fff" stroke="#a8606c" stroke-width="0.75"/>
<polygon points="402.47,113.65 404.42,115.60 402.47,117.55 400.52,115.60" fill="#fff" stroke="#a8606c" stroke-width="0.75"/>
<polygon points="412.15,115.75 414.10,117.70 412.15,119.65 410.20,117.70" fill="#fff" stroke="#a8606c" stroke-width="0.75"/>
<polygon points="412.15,113.65 414.10,115.60 412.15,117.55 410.20,115.60" fill="#fff" stroke="#a8606c" stroke-width="0.75"/>
<polygon points="421.83,113.65 423.78,115.60 421.83,117.55 419.88,115.60" fill="#fff" stroke="#a8606c" stroke-width="0.75"/>
<circle cx="431.52" cy="117.00" r="1.5" fill="#000"/>
<circle cx="441.20" cy="122.95" r="1.5" fill="#000"/>
<circle cx="450.88" cy="110.35" r="1.5" fill="#000"/>
<circle cx="460.56" cy="122.60" r="1.5" fill="#000"/>
<circle cx="470.25" cy="124.70" r="1.5" fill="#000"/>
<circle cx="479.93" cy="124.35" r="1.5" fill="#000"/>
<circle cx="489.61" cy="107.20" r="1.5" fill="#000"/>
<circle cx="499.30" cy="129.60" r="1.5" fill="#000"/>
<circle cx="508.98" cy="128.55" r="1.5" fill="#000"/>
<polygon points="518.66,118.20 520.61,120.15 518.66,122.10 516.71,120.15" fill="#fff" stroke="#a8606c" stroke-width="0.75"/>
<polygon points="518.66,113.65 520.61,115.60 518.66,117.55 516.71,115.60" fill="#fff" stroke="#a8606c" stroke-width="0.75"/>
<polygon points="528.35,113.65 530.30,115.60 528.35,117.55 526.39,115.60" fill="#fff" stroke="#a8606c" stroke-width="0.75"/>
<polygon points="538.03,121.35 539.98,123.30 538.03,125.25 536.08,123.30" fill="#fff" stroke="#a8606c" stroke-width="0.75"/>
<polygon points="538.03,113.65 539.98,115.60 538.03,117.55 536.08,115.60" fill="#fff" stroke="#a8606c" stroke-width="0.75"/>
<polygon points="547.71,113.65 549.66,115.60 547.71,117.55 545.76,115.60" fill="#fff" stroke="#a8606c" stroke-width="0.75"/>
<polygon points="557.39,112.60 559.34,114.55 557.39,116.50 555.44,114.55" fill="#fff" stroke="#a8606c" stroke-width="0.75"/>
<polygon points="557.39,113.65 559.34,115.60 557.39,117.55 555.44,115.60" fill="#fff" stroke="#a8606c" stroke-width="0.75"/>
<polygon points="567.08,113.65 569.03,115.60 567.08,117.55 565.13,115.60" fill="#fff" stroke="#a8606c" stroke-width="0.75"/>
<polygon points="576.76,111.20 578.71,113.15 576.76,115.10 574.81,113.15" fill="#fff" stroke="#a8606c" stroke-width="0.75"/>
<polygon points="576.76,113.65 578.71,115.60 576.76,117.55 574.81,115.60" fill="#fff" stroke="#a8606c" stroke-width="0.75"/>
<polygon points="586.44,98.60 588.39,100.55 586.44,102.50 584.49,100.55" fill="#fff" stroke="#a8606c" stroke-width="0.75"/>
<polygon points="586.44,113.65 588.39,115.60 586.44,117.55 584.49,115.60" fill="#fff" stroke="#a8606c" stroke-width="0.75"/>
<polygon points="596.13,98.25 598.08,100.20 596.13,102.15 594.18,100.20" fill="#fff" stroke="#a8606c" stroke-width="0.75"/>
<polygon points="596.13,113.65 598.08,115.60 596.13,117.55 594.18,115.60" fill="#fff" stroke="#a8606c" stroke-width="0.75"/>
<circle cx="605.81" cy="118.40" r="1.5" fill="#000"/>
<text x="333.60" y="112.80" font-size="9" text-anchor="middle" font-weight="bold" fill="#000" transform="rotate(-90 333.60 112.80)" textLength="59" lengthAdjust="spacingAndGlyphs" stroke="#000" stroke-width="0.3" dominant-baseline="central">Measurements</text>
<text x="343.40" y="111.30" font-size="9" text-anchor="middle" font-weight="bold" fill="#000" transform="rotate(-90 343.40 111.30)" textLength="29" lengthAdjust="spacingAndGlyphs" stroke="#000" stroke-width="0.3" dominant-baseline="central">(d=14)</text>
<rect x="363.4" y="149.5" width="251.20000000000005" height="63.69999999999999" fill="none" stroke="#ebebeb" stroke-width="0.8"/>
<line x1="363.4" x2="614.6" y1="155.10" y2="155.10" stroke="#e6e6e6" stroke-width="0.5" stroke-dasharray="1,1"/>
<text x="361.20" y="157.70" font-size="7.5" text-anchor="end" font-weight="normal" fill="#505050" >4</text>
<line x1="363.4" x2="614.6" y1="176.70" y2="176.70" stroke="#e6e6e6" stroke-width="0.5" stroke-dasharray="1,1"/>
<text x="361.20" y="179.30" font-size="7.5" text-anchor="end" font-weight="normal" fill="#505050" >2</text>
<line x1="363.4" x2="614.6" y1="198.30" y2="198.30" stroke="#e6e6e6" stroke-width="0.5" stroke-dasharray="1,1"/>
<text x="361.20" y="200.90" font-size="7.5" text-anchor="end" font-weight="normal" fill="#505050" >0</text>
<line x1="383.10" x2="383.10" y1="149.5" y2="213.2" stroke="#e6e6e6" stroke-width="0.5" stroke-dasharray="1,1"/>
<line x1="421.83" x2="421.83" y1="149.5" y2="213.2" stroke="#e6e6e6" stroke-width="0.5" stroke-dasharray="1,1"/>
<line x1="460.56" x2="460.56" y1="149.5" y2="213.2" stroke="#e6e6e6" stroke-width="0.5" stroke-dasharray="1,1"/>
<line x1="499.30" x2="499.30" y1="149.5" y2="213.2" stroke="#e6e6e6" stroke-width="0.5" stroke-dasharray="1,1"/>
<line x1="538.03" x2="538.03" y1="149.5" y2="213.2" stroke="#e6e6e6" stroke-width="0.5" stroke-dasharray="1,1"/>
<line x1="576.76" x2="576.76" y1="149.5" y2="213.2" stroke="#e6e6e6" stroke-width="0.5" stroke-dasharray="1,1"/>
<rect x="387.94" y="153.8" width="10.58" height="56.79999999999998" fill="#dde4fa"/>
<rect x="397.62" y="153.8" width="9.68" height="56.79999999999998" fill="#0a3cdc"/>
<rect x="475.09" y="153.8" width="10.58" height="56.79999999999998" fill="#fffbfb"/>
<rect x="484.77" y="153.8" width="10.58" height="56.79999999999998" fill="#fef9f9"/>
<rect x="494.45" y="153.8" width="10.58" height="56.79999999999998" fill="#fef9f9"/>
<rect x="504.14" y="153.8" width="10.58" height="56.79999999999998" fill="#fef7f7"/>
<rect x="513.82" y="153.8" width="10.58" height="56.79999999999998" fill="#fef2f2"/>
<rect x="523.50" y="153.8" width="10.58" height="56.79999999999998" fill="#fef2f2"/>
<rect x="533.19" y="153.8" width="10.58" height="56.79999999999998" fill="#fde8e8"/>
<rect x="542.87" y="153.8" width="10.58" height="56.79999999999998" fill="#fde8e8"/>
<rect x="552.55" y="153.8" width="10.58" height="56.79999999999998" fill="#fef5f5"/>
<rect x="562.24" y="153.8" width="10.58" height="56.79999999999998" fill="#f28080"/>
<rect x="571.92" y="153.8" width="10.58" height="56.79999999999998" fill="#f7b0b0"/>
<rect x="581.60" y="153.8" width="10.58" height="56.79999999999998" fill="#e60000"/>
<rect x="591.28" y="153.8" width="10.58" height="56.79999999999998" fill="#ee4f4f"/>
<rect x="600.97" y="153.8" width="9.68" height="56.79999999999998" fill="#fcdbdb"/>
<polygon points="383.10,185.56 402.47,204.46 402.47,204.46 383.10,210.61" fill="#808080" fill-opacity="0.42"/>
<polygon points="402.47,204.46 412.15,185.56 421.83,195.06 421.83,195.06 412.15,210.61 402.47,204.46" fill="#808080" fill-opacity="0.42"/>
<polygon points="441.20,198.30 450.88,188.69 460.56,200.24 460.56,200.24 450.88,207.48 441.20,198.30" fill="#808080" fill-opacity="0.42"/>
<polygon points="470.25,195.06 479.93,188.15 489.61,198.30 489.61,198.30 479.93,208.45 470.25,195.06" fill="#808080" fill-opacity="0.42"/>
<polygon points="518.66,198.30 528.35,188.69 538.03,200.24 538.03,200.24 528.35,207.48 518.66,198.30" fill="#808080" fill-opacity="0.42"/>
<polygon points="538.03,200.24 547.71,187.72 557.39,189.44 557.39,189.44 547.71,208.45 538.03,200.24" fill="#808080" fill-opacity="0.42"/>
<polygon points="596.13,200.24 605.81,185.56 605.81,210.61 596.13,200.24" fill="#808080" fill-opacity="0.42"/>
<polyline points="383.10,198.30 392.78,201.00 402.47,204.46" fill="none" stroke="#a0505a" stroke-width="0.7"/>
<polyline points="402.47,204.46 412.15,202.08 421.83,195.06" fill="none" stroke="#a0505a" stroke-width="0.7"/>
<polyline points="431.52,200.24 441.20,198.30 450.88,200.46 460.56,200.24" fill="none" stroke="#a0505a" stroke-width="0.7"/>
<polyline points="470.25,195.06 479.93,199.92 489.61,198.30 499.30,198.30 508.98,203.38" fill="none" stroke="#a0505a" stroke-width="0.7"/>
<polyline points="508.98,203.38 518.66,198.30 528.35,198.30 538.03,200.24" fill="none" stroke="#a0505a" stroke-width="0.7"/>
<polyline points="538.03,200.24 547.71,198.30 557.39,189.44" fill="none" stroke="#a0505a" stroke-width="0.7"/>
<polyline points="596.13,200.24 605.81,198.30" fill="none" stroke="#a0505a" stroke-width="0.7"/>
<polyline points="383.10,198.30 392.78,198.30 402.47,204.46 412.15,198.30 421.83,195.06 431.52,200.24 441.20,198.30 450.88,198.30 460.56,200.24 470.25,195.06 479.93,198.30 489.61,198.30 499.30,198.30 508.98,203.38 518.66,198.30 528.35,198.30 538.03,200.24 547.71,198.30 557.39,189.44 567.08,200.89 576.76,195.06 586.44,154.02 596.13,200.24 605.81,198.30" fill="none" stroke="#222" stroke-width="0.8"/>
<polygon points="383.10,196.35 385.05,198.30 383.10,200.25 381.15,198.30" fill="#fff" stroke="#a8606c" stroke-width="0.75"/>
<polygon points="392.78,196.35 394.73,198.30 392.78,200.25 390.83,198.30" fill="#fff" stroke="#a8606c" stroke-width="0.75"/>
<polygon points="392.78,199.05 394.73,201.00 392.78,202.95 390.83,201.00" fill="#fff" stroke="#a8606c" stroke-width="0.75"/>
<circle cx="402.47" cy="204.46" r="1.5" fill="#000"/>
<polygon points="412.15,196.35 414.10,198.30 412.15,200.25 410.20,198.30" fill="#fff" stroke="#a8606c" stroke-width="0.75"/>
<polygon points="412.15,200.13 414.10,202.08 412.15,204.03 410.20,202.08" fill="#fff" stroke="#a8606c" stroke-width="0.75"/>
<circle cx="421.83" cy="195.06" r="1.5" fill="#000"/>
<circle cx="431.52" cy="200.24" r="1.5" fill="#000"/>
<polygon points="441.20,196.35 443.15,198.30 441.20,200.25 439.25,198.30" fill="#fff" stroke="#a8606c" stroke-width="0.75"/>
<polygon points="450.88,196.35 452.83,198.30 450.88,200.25 448.93,198.30" fill="#fff" stroke="#a8606c" stroke-width="0.75"/>
<polygon points="450.88,198.51 452.83,200.46 450.88,202.41 448.93,200.46" fill="#fff" stroke="#a8606c" stroke-width="0.75"/>
<circle cx="460.56" cy="200.24" r="1.5" fill="#000"/>
<circle cx="470.25" cy="195.06" r="1.5" fill="#000"/>
<polygon points="479.93,196.35 481.88,198.30 479.93,200.25 477.98,198.30" fill="#fff" stroke="#a8606c" stroke-width="0.75"/>
<polygon points="479.93,197.97 481.88,199.92 479.93,201.87 477.98,199.92" fill="#fff" stroke="#a8606c" stroke-width="0.75"/>
<polygon points="489.61,196.35 491.56,198.30 489.61,200.25 487.66,198.30" fill="#fff" stroke="#a8606c" stroke-width="0.75"/>
<polygon points="499.30,196.35 501.25,198.30 499.30,200.25 497.35,198.30" fill="#fff" stroke="#a8606c" stroke-width="0.75"/>
<circle cx="508.98" cy="203.38" r="1.5" fill="#000"/>
<polygon points="518.66,196.35 520.61,198.30 518.66,200.25 516.71,198.30" fill="#fff" stroke="#a8606c" stroke-width="0.75"/>
<polygon points="528.35,196.35 530.30,198.30 528.35,200.25 526.39,198.30" fill="#fff" stroke="#a8606c" stroke-width="0.75"/>
<circle cx="538.03" cy="200.24" r="1.5" fill="#000"/>
<polygon points="547.71,196.35 549.66,198.30 547.71,200.25 545.76,198.30" fill="#fff" stroke="#a8606c" stroke-width="0.75"/>
<circle cx="557.39" cy="189.44" r="1.5" fill="#000"/>
<circle cx="567.08" cy="200.89" r="1.5" fill="#000"/>
<circle cx="576.76" cy="195.06" r="1.5" fill="#000"/>
<circle cx="586.44" cy="154.02" r="1.5" fill="#000"/>
<circle cx="596.13" cy="200.24" r="1.5" fill="#000"/>
<polygon points="605.81,196.35 607.76,198.30 605.81,200.25 603.86,198.30" fill="#fff" stroke="#a8606c" stroke-width="0.75"/>
<text x="333.60" y="178.55" font-size="9" text-anchor="middle" font-weight="bold" fill="#000" transform="rotate(-90 333.60 178.55)" textLength="59" lengthAdjust="spacingAndGlyphs" stroke="#000" stroke-width="0.3" dominant-baseline="central">Measurements</text>
<text x="343.40" y="177.05" font-size="9" text-anchor="middle" font-weight="bold" fill="#000" transform="rotate(-90 343.40 177.05)" textLength="29" lengthAdjust="spacingAndGlyphs" stroke="#000" stroke-width="0.3" dominant-baseline="central">(d=22)</text>
<rect x="363.4" y="215.7" width="251.20000000000005" height="64.5" fill="none" stroke="#ebebeb" stroke-width="0.8"/>
<line x1="363.4" x2="614.6" y1="231.10" y2="231.10" stroke="#e6e6e6" stroke-width="0.5" stroke-dasharray="1,1"/>
<text x="361.20" y="233.70" font-size="7.5" text-anchor="end" font-weight="normal" fill="#505050" >2</text>
<line x1="363.4" x2="614.6" y1="247.50" y2="247.50" stroke="#e6e6e6" stroke-width="0.5" stroke-dasharray="1,1"/>
<text x="361.20" y="250.10" font-size="7.5" text-anchor="end" font-weight="normal" fill="#505050" >0</text>
<line x1="363.4" x2="614.6" y1="263.90" y2="263.90" stroke="#e6e6e6" stroke-width="0.5" stroke-dasharray="1,1"/>
<text x="361.20" y="266.50" font-size="7.5" text-anchor="end" font-weight="normal" fill="#505050" >−2</text>
<line x1="383.10" x2="383.10" y1="215.7" y2="280.2" stroke="#e6e6e6" stroke-width="0.5" stroke-dasharray="1,1"/>
<line x1="421.83" x2="421.83" y1="215.7" y2="280.2" stroke="#e6e6e6" stroke-width="0.5" stroke-dasharray="1,1"/>
<line x1="460.56" x2="460.56" y1="215.7" y2="280.2" stroke="#e6e6e6" stroke-width="0.5" stroke-dasharray="1,1"/>
<line x1="499.30" x2="499.30" y1="215.7" y2="280.2" stroke="#e6e6e6" stroke-width="0.5" stroke-dasharray="1,1"/>
<line x1="538.03" x2="538.03" y1="215.7" y2="280.2" stroke="#e6e6e6" stroke-width="0.5" stroke-dasharray="1,1"/>
<line x1="576.76" x2="576.76" y1="215.7" y2="280.2" stroke="#e6e6e6" stroke-width="0.5" stroke-dasharray="1,1"/>
<rect x="494.45" y="218.6" width="10.58" height="58.20000000000002" fill="#fdfdff"/>
<rect x="504.14" y="218.6" width="10.58" height="58.20000000000002" fill="#fbfcfe"/>
<rect x="513.82" y="218.6" width="10.58" height="58.20000000000002" fill="#f8f9fe"/>
<rect x="523.50" y="218.6" width="10.58" height="58.20000000000002" fill="#f9fafe"/>
<rect x="533.19" y="218.6" width="10.58" height="58.20000000000002" fill="#dde4fa"/>
<rect x="542.87" y="218.6" width="10.58" height="58.20000000000002" fill="#f5f7fe"/>
<rect x="552.55" y="218.6" width="10.58" height="58.20000000000002" fill="#f8f9fe"/>
<rect x="562.24" y="218.6" width="10.58" height="58.20000000000002" fill="#e6ecfc"/>
<rect x="571.92" y="218.6" width="10.58" height="58.20000000000002" fill="#f5f7fe"/>
<rect x="581.60" y="218.6" width="10.58" height="58.20000000000002" fill="#e60000"/>
<rect x="591.28" y="218.6" width="10.58" height="58.20000000000002" fill="#a9bbf3"/>
<rect x="600.97" y="218.6" width="9.68" height="58.20000000000002" fill="#1646de"/>
<polygon points="402.47,237.91 412.15,222.08 421.83,232.33 421.83,232.33 412.15,273.74 402.47,237.91" fill="#808080" fill-opacity="0.42"/>
<polygon points="441.20,244.79 450.88,237.41 460.56,247.50 460.56,247.50 450.88,257.83 441.20,244.79" fill="#808080" fill-opacity="0.42"/>
<polygon points="460.56,247.50 470.25,243.24 479.93,252.42 479.93,252.42 470.25,252.58 460.56,247.50" fill="#808080" fill-opacity="0.42"/>
<polygon points="518.66,247.50 528.35,234.46 538.03,251.19 538.03,251.19 528.35,261.60 518.66,247.50" fill="#808080" fill-opacity="0.42"/>
<polygon points="538.03,251.19 547.71,231.67 557.39,233.81 567.08,245.20 567.08,245.20 557.39,261.03 547.71,263.49 538.03,251.19" fill="#808080" fill-opacity="0.42"/>
<polygon points="567.08,245.20 576.76,234.87 586.44,241.76 586.44,241.76 576.76,259.80 567.08,245.20" fill="#808080" fill-opacity="0.42"/>
<polygon points="586.44,241.76 596.13,218.64 605.81,218.64 605.81,276.61 596.13,276.61 586.44,241.76" fill="#808080" fill-opacity="0.42"/>
<polyline points="383.10,229.46 392.78,247.50 402.47,237.91" fill="none" stroke="#a0505a" stroke-width="0.7"/>
<polyline points="402.47,237.91 412.15,247.50 421.83,232.33" fill="none" stroke="#a0505a" stroke-width="0.7"/>
<polyline points="431.52,233.07 441.20,246.68 450.88,245.86 460.56,247.50" fill="none" stroke="#a0505a" stroke-width="0.7"/>
<polyline points="460.56,247.50 470.25,248.32 479.93,252.42" fill="none" stroke="#a0505a" stroke-width="0.7"/>
<polyline points="479.93,252.42 489.61,246.68 499.30,247.50 508.98,247.50 518.66,247.50 528.35,247.50 538.03,251.19" fill="none" stroke="#a0505a" stroke-width="0.7"/>
<polyline points="538.03,251.19 547.71,247.50 557.39,247.50 567.08,245.20" fill="none" stroke="#a0505a" stroke-width="0.7"/>
<polyline points="567.08,245.20 576.76,247.50 586.44,241.76" fill="none" stroke="#a0505a" stroke-width="0.7"/>
<polyline points="586.44,241.76 596.13,247.50 605.81,247.50" fill="none" stroke="#a0505a" stroke-width="0.7"/>
<polyline points="383.10,229.46 392.78,240.61 402.47,237.91 412.15,241.76 421.83,232.33 431.52,233.07 441.20,244.79 450.88,247.50 460.56,247.50 470.25,245.86 479.93,252.42 489.61,246.68 499.30,247.50 508.98,247.50 518.66,247.50 528.35,247.50 538.03,251.19 547.71,244.79 557.39,243.07 567.08,245.20 576.76,239.96 586.44,241.76 596.13,233.07 605.81,233.07" fill="none" stroke="#222" stroke-width="0.8"/>
<circle cx="383.10" cy="229.46" r="1.5" fill="#000"/>
<polygon points="392.78,238.66 394.73,240.61 392.78,242.56 390.83,240.61" fill="#fff" stroke="#a8606c" stroke-width="0.75"/>
<polygon points="392.78,245.55 394.73,247.50 392.78,249.45 390.83,247.50" fill="#fff" stroke="#a8606c" stroke-width="0.75"/>
<circle cx="402.47" cy="237.91" r="1.5" fill="#000"/>
<polygon points="412.15,239.81 414.10,241.76 412.15,243.71 410.20,241.76" fill="#fff" stroke="#a8606c" stroke-width="0.75"/>
<polygon points="412.15,245.55 414.10,247.50 412.15,249.45 410.20,247.50" fill="#fff" stroke="#a8606c" stroke-width="0.75"/>
<circle cx="421.83" cy="232.33" r="1.5" fill="#000"/>
<circle cx="431.52" cy="233.07" r="1.5" fill="#000"/>
<polygon points="441.20,242.84 443.15,244.79 441.20,246.74 439.25,244.79" fill="#fff" stroke="#a8606c" stroke-width="0.75"/>
<polygon points="441.20,244.73 443.15,246.68 441.20,248.63 439.25,246.68" fill="#fff" stroke="#a8606c" stroke-width="0.75"/>
<polygon points="450.88,245.55 452.83,247.50 450.88,249.45 448.93,247.50" fill="#fff" stroke="#a8606c" stroke-width="0.75"/>
<polygon points="450.88,243.91 452.83,245.86 450.88,247.81 448.93,245.86" fill="#fff" stroke="#a8606c" stroke-width="0.75"/>
<circle cx="460.56" cy="247.50" r="1.5" fill="#000"/>
<polygon points="470.25,243.91 472.20,245.86 470.25,247.81 468.30,245.86" fill="#fff" stroke="#a8606c" stroke-width="0.75"/>
<polygon points="470.25,246.37 472.20,248.32 470.25,250.27 468.30,248.32" fill="#fff" stroke="#a8606c" stroke-width="0.75"/>
<circle cx="479.93" cy="252.42" r="1.5" fill="#000"/>
<polygon points="489.61,244.73 491.56,246.68 489.61,248.63 487.66,246.68" fill="#fff" stroke="#a8606c" stroke-width="0.75"/>
<polygon points="499.30,245.55 501.25,247.50 499.30,249.45 497.35,247.50" fill="#fff" stroke="#a8606c" stroke-width="0.75"/>
<polygon points="508.98,245.55 510.93,247.50 508.98,249.45 507.03,247.50" fill="#fff" stroke="#a8606c" stroke-width="0.75"/>
<polygon points="518.66,245.55 520.61,247.50 518.66,249.45 516.71,247.50" fill="#fff" stroke="#a8606c" stroke-width="0.75"/>
<polygon points="528.35,245.55 530.30,247.50 528.35,249.45 526.39,247.50" fill="#fff" stroke="#a8606c" stroke-width="0.75"/>
<circle cx="538.03" cy="251.19" r="1.5" fill="#000"/>
<polygon points="547.71,242.84 549.66,244.79 547.71,246.74 545.76,244.79" fill="#fff" stroke="#a8606c" stroke-width="0.75"/>
<polygon points="547.71,245.55 549.66,247.50 547.71,249.45 545.76,247.50" fill="#fff" stroke="#a8606c" stroke-width="0.75"/>
<polygon points="557.39,241.12 559.34,243.07 557.39,245.02 555.44,243.07" fill="#fff" stroke="#a8606c" stroke-width="0.75"/>
<polygon points="557.39,245.55 559.34,247.50 557.39,249.45 555.44,247.50" fill="#fff" stroke="#a8606c" stroke-width="0.75"/>
<circle cx="567.08" cy="245.20" r="1.5" fill="#000"/>
<polygon points="576.76,238.01 578.71,239.96 576.76,241.91 574.81,239.96" fill="#fff" stroke="#a8606c" stroke-width="0.75"/>
<polygon points="576.76,245.55 578.71,247.50 576.76,249.45 574.81,247.50" fill="#fff" stroke="#a8606c" stroke-width="0.75"/>
<circle cx="586.44" cy="241.76" r="1.5" fill="#000"/>
<polygon points="596.13,245.55 598.08,247.50 596.13,249.45 594.18,247.50" fill="#fff" stroke="#a8606c" stroke-width="0.75"/>
<polygon points="596.13,231.12 598.08,233.07 596.13,235.02 594.18,233.07" fill="#fff" stroke="#a8606c" stroke-width="0.75"/>
<polygon points="605.81,245.55 607.76,247.50 605.81,249.45 603.86,247.50" fill="#fff" stroke="#a8606c" stroke-width="0.75"/>
<polygon points="605.81,231.12 607.76,233.07 605.81,235.02 603.86,233.07" fill="#fff" stroke="#a8606c" stroke-width="0.75"/>
<text x="333.60" y="245.15" font-size="9" text-anchor="middle" font-weight="bold" fill="#000" transform="rotate(-90 333.60 245.15)" textLength="59" lengthAdjust="spacingAndGlyphs" stroke="#000" stroke-width="0.3" dominant-baseline="central">Measurements</text>
<text x="343.40" y="243.65" font-size="9" text-anchor="middle" font-weight="bold" fill="#000" transform="rotate(-90 343.40 243.65)" textLength="29" lengthAdjust="spacingAndGlyphs" stroke="#000" stroke-width="0.3" dominant-baseline="central">(d=64)</text>
<text x="48.10" y="287.90" font-size="7.5" text-anchor="middle" font-weight="normal" fill="#505050" >1</text>
<text x="68.26" y="287.90" font-size="7.5" text-anchor="middle" font-weight="normal" fill="#505050" >5</text>
<text x="88.42" y="287.90" font-size="7.5" text-anchor="middle" font-weight="normal" fill="#505050" >9</text>
<text x="108.58" y="287.90" font-size="7.5" text-anchor="middle" font-weight="normal" fill="#505050" >13</text>
<text x="128.74" y="287.90" font-size="7.5" text-anchor="middle" font-weight="normal" fill="#505050" >17</text>
<text x="148.90" y="287.90" font-size="7.5" text-anchor="middle" font-weight="normal" fill="#505050" >21</text>
<text x="169.06" y="287.90" font-size="7.5" text-anchor="middle" font-weight="normal" fill="#505050" >25</text>
<text x="189.22" y="287.90" font-size="7.5" text-anchor="middle" font-weight="normal" fill="#505050" >29</text>
<text x="209.38" y="287.90" font-size="7.5" text-anchor="middle" font-weight="normal" fill="#505050" >33</text>
<text x="229.54" y="287.90" font-size="7.5" text-anchor="middle" font-weight="normal" fill="#505050" >37</text>
<text x="249.70" y="287.90" font-size="7.5" text-anchor="middle" font-weight="normal" fill="#505050" >41</text>
<text x="269.86" y="287.90" font-size="7.5" text-anchor="middle" font-weight="normal" fill="#505050" >45</text>
<text x="383.10" y="287.90" font-size="7.5" text-anchor="middle" font-weight="normal" fill="#505050" >1</text>
<text x="421.83" y="287.90" font-size="7.5" text-anchor="middle" font-weight="normal" fill="#505050" >5</text>
<text x="460.56" y="287.90" font-size="7.5" text-anchor="middle" font-weight="normal" fill="#505050" >9</text>
<text x="499.30" y="287.90" font-size="7.5" text-anchor="middle" font-weight="normal" fill="#505050" >13</text>
<text x="538.03" y="287.90" font-size="7.5" text-anchor="middle" font-weight="normal" fill="#505050" >17</text>
<text x="576.76" y="287.90" font-size="7.5" text-anchor="middle" font-weight="normal" fill="#505050" >21</text>
<text x="156.20" y="297.20" font-size="10" text-anchor="middle" font-weight="bold" fill="#000" textLength="44" lengthAdjust="spacingAndGlyphs" stroke="#000" stroke-width="0.3" >Timepoints</text>
<text x="492.00" y="297.20" font-size="10" text-anchor="middle" font-weight="bold" fill="#000" textLength="44" lengthAdjust="spacingAndGlyphs" stroke="#000" stroke-width="0.3" >Timepoints</text>
<text x="150.80" y="313.00" font-size="10" text-anchor="middle" font-weight="bold" fill="#000" stroke="#000" stroke-width="0.3" >(a) PhysioNet</text>
<text x="490.60" y="313.00" font-size="10" text-anchor="middle" font-weight="bold" fill="#000" textLength="55" lengthAdjust="spacingAndGlyphs" stroke="#000" stroke-width="0.3" >(b) MIMIC-III</text></svg></body></html>
